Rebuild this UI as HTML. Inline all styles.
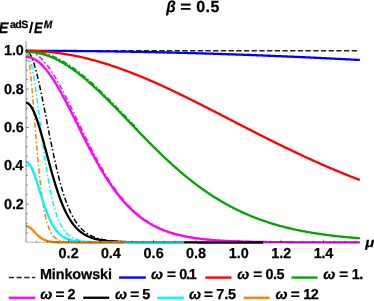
<!DOCTYPE html>
<html><head><meta charset="utf-8"><title>plot</title>
<style>html,body{margin:0;padding:0;background:#fff;width:374px;height:301px;overflow:hidden;font-family:"Liberation Sans",sans-serif}</style>
</head><body>
<svg width="374" height="301" viewBox="0 0 374 301" style="position:absolute;left:0;top:0">
<rect width="374" height="301" fill="#fff"/>
<line x1="29.05" y1="50.80" x2="359.24" y2="50.80" stroke="#222" stroke-width="1.5" stroke-dasharray="3.85 3.85" stroke-linecap="square" stroke-dashoffset="0"/>
<path d="M26.05,50.80 L26.33,50.80 L26.60,50.80 L26.88,50.81 L27.16,50.81 L27.43,50.82 L27.71,50.82 L27.98,50.83 L28.26,50.84 L28.54,50.85 L28.81,50.86 L29.09,50.88 L29.37,50.89 L29.64,50.91 L29.92,50.93 L30.19,50.95 L30.47,50.97 L30.75,50.99 L31.02,51.01 L31.30,51.03 L31.58,51.06 L31.85,51.09 L32.13,51.11 L32.40,51.14 L32.68,51.17 L32.96,51.20 L33.23,51.24 L33.51,51.27 L33.79,51.31 L34.06,51.34 L34.34,51.38 L34.61,51.42 L34.89,51.46 L35.17,51.50 L35.44,51.55 L35.72,51.59 L35.99,51.64 L36.27,51.68 L36.55,51.73 L36.82,51.78 L37.10,51.83 L37.38,51.89 L37.65,51.94 L37.93,51.99 L38.20,52.05 L38.48,52.11 L38.76,52.17 L39.03,52.23 L39.31,52.29 L39.59,52.35 L39.86,52.41 L40.14,52.48 L40.41,52.54 L40.69,52.61 L40.97,52.68 L41.24,52.75 L41.52,52.82 L41.80,52.89 L42.07,52.97 L42.35,53.04 L42.62,53.12 L42.90,53.19 L43.18,53.27 L43.45,53.35 L43.73,53.43 L44.01,53.52 L44.28,53.60 L44.56,53.68 L44.84,53.77 L45.11,53.86 L45.39,53.95 L45.66,54.04 L45.94,54.13 L46.22,54.22 L46.49,54.31 L46.77,54.41 L47.05,54.50 L47.32,54.60 L47.60,54.70 L47.87,54.80 L48.15,54.90 L48.43,55.00 L48.70,55.10 L48.98,55.21 L49.26,55.31 L49.53,55.42 L49.81,55.53 L50.08,55.63 L50.36,55.74 L50.64,55.86 L50.91,55.97 L51.19,56.08 L51.47,56.20 L51.74,56.31 L52.02,56.43 L52.29,56.55 L52.57,56.67 L52.85,56.79 L53.12,56.91 L53.40,57.03 L53.67,57.16 L53.95,57.28 L54.23,57.41 L54.50,57.54 L54.78,57.67 L55.06,57.80 L55.33,57.93 L55.61,58.06 L55.89,58.19 L56.16,58.33 L56.44,58.46 L56.71,58.60 L56.99,58.74 L57.27,58.88 L57.54,59.02 L57.82,59.16 L58.09,59.30 L58.37,59.44 L58.65,59.59 L58.92,59.73 L59.20,59.88 L59.48,60.03 L59.75,60.18 L60.03,60.33 L60.31,60.48 L60.58,60.63 L60.86,60.78 L61.13,60.94 L61.41,61.09 L61.69,61.25 L61.96,61.41 L62.24,61.57 L62.52,61.73 L62.79,61.89 L63.07,62.05 L63.34,62.21 L63.62,62.38 L63.90,62.54 L64.17,62.71 L64.45,62.87 L64.72,63.04 L65.00,63.21 L65.28,63.38 L65.55,63.55 L65.83,63.72 L66.11,63.90 L66.38,64.07 L66.66,64.25 L66.94,64.42 L67.21,64.60 L67.49,64.78 L67.76,64.96 L68.04,65.14 L68.32,65.32 L68.59,65.50 L68.87,65.68 L69.14,65.87 L69.42,66.05 L69.70,66.24 L69.97,66.42 L70.25,66.61 L70.53,66.80 L70.80,66.99 L71.08,67.18 L71.36,67.37 L71.63,67.56 L71.91,67.76 L72.18,67.95 L72.46,68.15 L72.74,68.34 L73.01,68.54 L73.29,68.74 L73.56,68.94 L73.84,69.14 L74.12,69.34 L74.39,69.54 L74.67,69.74 L74.95,69.95 L75.22,70.15 L75.50,70.36 L75.78,70.56 L76.05,70.77 L76.33,70.98 L76.60,71.19 L76.88,71.39 L77.16,71.61 L77.43,71.82 L77.71,72.03 L77.98,72.24 L78.26,72.46 L78.54,72.67 L78.81,72.88 L79.09,73.10 L79.37,73.32 L79.64,73.54 L79.92,73.75 L80.20,73.97 L80.47,74.19 L80.75,74.42 L81.02,74.64 L81.30,74.86 L81.58,75.08 L81.85,75.31 L82.13,75.53 L82.41,75.76 L82.68,75.98 L82.96,76.21 L83.23,76.44 L83.51,76.67 L83.79,76.90 L84.06,77.13 L84.34,77.36 L84.62,77.59 L84.89,77.82 L85.17,78.06 L85.44,78.29 L85.72,78.53 L86.00,78.76 L86.27,79.00 L86.55,79.23 L86.83,79.47 L87.10,79.71 L87.38,79.95 L87.65,80.19 L87.93,80.43 L88.21,80.67 L88.48,80.91 L88.76,81.15 L89.03,81.39 L89.31,81.64 L89.59,81.88 L89.86,82.13 L90.14,82.37 L90.42,82.62 L90.69,82.87 L90.97,83.11 L91.25,83.36 L91.52,83.61 L91.80,83.86 L92.07,84.11 L92.35,84.36 L92.63,84.61 L92.90,84.86 L93.18,85.11 L93.45,85.37 L93.73,85.62 L94.01,85.87 L94.28,86.13 L94.56,86.38 L94.84,86.64 L95.11,86.89 L95.39,87.15 L95.66,87.41 L95.94,87.67 L96.22,87.92 L96.49,88.18 L96.77,88.44 L97.05,88.70 L97.32,88.96 L97.60,89.22 L97.88,89.49 L98.15,89.75 L98.43,90.01 L98.70,90.27 L98.98,90.54 L99.26,90.80 L99.53,91.06 L99.81,91.33 L100.09,91.59 L100.36,91.86 L100.64,92.13 L100.91,92.39 L101.19,92.66 L101.47,92.93 L101.74,93.20 L102.02,93.47 L102.30,93.73 L102.57,94.00 L102.85,94.27 L103.12,94.54 L103.40,94.81 L103.68,95.09 L103.95,95.36 L104.23,95.63 L104.51,95.90 L104.78,96.17 L105.06,96.45 L105.33,96.72 L105.61,96.99 L105.89,97.27 L106.16,97.54 L106.44,97.82 L106.71,98.09 L106.99,98.37 L107.27,98.64 L107.54,98.92 L107.82,99.20 L108.10,99.47 L108.37,99.75 L108.65,100.03 L108.92,100.31 L109.20,100.59 L109.48,100.86 L109.75,101.14 L110.03,101.42 L110.31,101.70 L110.58,101.98 L110.86,102.26 L111.13,102.54 L111.41,102.82 L111.69,103.10 L111.96,103.38 L112.24,103.67 L112.52,103.95 L112.79,104.23 L113.07,104.51 L113.34,104.79 L113.62,105.08 L113.90,105.36 L114.17,105.64 L114.45,105.93 L114.73,106.21 L115.00,106.49 L115.28,106.78 L115.56,107.06 L115.83,107.35 L116.11,107.63 L116.38,107.92 L116.66,108.20 L116.94,108.49 L117.21,108.77 L117.49,109.06 L117.77,109.34 L118.04,109.63 L118.32,109.92 L118.59,110.20 L118.87,110.49 L119.15,110.78 L119.42,111.06 L119.70,111.35 L119.97,111.64 L120.25,111.92 L120.53,112.21 L120.80,112.50 L121.08,112.79 L121.36,113.07 L121.63,113.36 L121.91,113.65 L122.19,113.94 L122.46,114.23 L122.74,114.51 L123.01,114.80 L123.29,115.09 L123.57,115.38 L123.84,115.67 L124.12,115.96 L124.39,116.25 L124.67,116.53 L124.95,116.82 L125.22,117.11 L125.50,117.40 L125.78,117.69 L126.05,117.98 L126.33,118.27 L126.61,118.56 L126.88,118.85 L127.16,119.14 L127.43,119.43 L127.71,119.72 L127.99,120.00 L128.26,120.29 L128.54,120.58 L128.81,120.87 L129.09,121.16 L129.37,121.45 L129.64,121.74 L129.92,122.03 L130.20,122.32 L130.47,122.61 L130.75,122.90 L131.03,123.19 L131.30,123.48 L131.58,123.77 L131.85,124.06 L132.13,124.34 L132.41,124.63 L132.68,124.92 L132.96,125.21 L133.24,125.50 L133.51,125.79 L133.79,126.08 L134.06,126.37 L134.34,126.66 L134.62,126.94 L134.89,127.23 L135.17,127.52 L135.45,127.81 L135.72,128.10 L136.00,128.39 L136.27,128.68 L136.55,128.96" transform="translate(0.55,-0.45)" fill="none" stroke="#00a500" stroke-width="1.5" stroke-dasharray="0.01 3.85 3.85 3.85" stroke-linecap="square" stroke-linejoin="round"/>
<path d="M26.05,50.80 L26.88,50.82 L27.72,50.89 L28.55,51.01 L29.39,51.18 L30.22,51.39 L31.06,51.65 L31.89,51.95 L32.73,52.31 L33.56,52.70 L34.39,53.15 L35.23,53.64 L36.06,54.17 L36.90,54.75 L37.73,55.37 L38.57,56.04 L39.40,56.75 L40.24,57.50 L41.07,58.29 L41.91,59.12 L42.74,60.00 L43.57,60.91 L44.41,61.87 L45.24,62.86 L46.08,63.89 L46.91,64.95 L47.75,66.05 L48.58,67.19 L49.42,68.36 L50.25,69.56 L51.08,70.80 L51.92,72.07 L52.75,73.36 L53.59,74.69 L54.42,76.04 L55.26,77.43 L56.09,78.84 L56.93,80.27 L57.76,81.73 L58.59,83.21 L59.43,84.72 L60.26,86.24 L61.10,87.79 L61.93,89.35 L62.77,90.93 L63.60,92.54 L64.44,94.15 L65.27,95.78 L66.11,97.43 L66.94,99.09 L67.77,100.76 L68.61,102.44 L69.44,104.13 L70.28,105.83 L71.11,107.53 L71.95,109.25 L72.78,110.97 L73.62,112.69 L74.45,114.42 L75.28,116.16 L76.12,117.89 L76.95,119.63 L77.79,121.36 L78.62,123.10 L79.46,124.83 L80.29,126.56 L81.13,128.29 L81.96,130.02 L82.80,131.74 L83.63,133.45 L84.46,135.16 L85.30,136.87 L86.13,138.56 L86.97,140.25 L87.80,141.93 L88.64,143.60 L89.47,145.26 L90.31,146.91 L91.14,148.55 L91.97,150.17 L92.81,151.79 L93.64,153.39 L94.48,154.98 L95.31,156.55 L96.15,158.11 L96.98,159.66 L97.82,161.19 L98.65,162.71 L99.48,164.21 L100.32,165.69 L101.15,167.16 L101.99,168.62 L102.82,170.05 L103.66,171.47 L104.49,172.88 L105.33,174.26 L106.16,175.63 L107.00,176.98 L107.83,178.31 L108.66,179.63 L109.50,180.92 L110.33,182.20 L111.17,183.46 L112.00,184.70 L112.84,185.93 L113.67,187.13 L114.51,188.32 L115.34,189.49 L116.17,190.64 L117.01,191.77 L117.84,192.88 L118.68,193.98 L119.51,195.05 L120.35,196.11 L121.18,197.15 L122.02,198.17 L122.85,199.18 L123.68,200.16 L124.52,201.13 L125.35,202.08 L126.19,203.02 L127.02,203.93 L127.86,204.83 L128.69,205.71 L129.53,206.58 L130.36,207.43 L131.20,208.26 L132.03,209.07 L132.86,209.87 L133.70,210.65 L134.53,211.42 L135.37,212.17 L136.20,212.91 L137.04,213.63 L137.87,214.33 L138.71,215.03 L139.54,215.70 L140.37,216.36 L141.21,217.01 L142.04,217.64 L142.88,218.26 L143.71,218.87 L144.55,219.46 L145.38,220.04 L146.22,220.60 L147.05,221.16 L147.88,221.70 L148.72,222.23 L149.55,222.74 L150.39,223.25 L151.22,223.74 L152.06,224.22 L152.89,224.69 L153.73,225.15 L154.56,225.60 L155.40,226.03 L156.23,226.46 L157.06,226.88 L157.90,227.28 L158.73,227.68 L159.57,228.07 L160.40,228.45 L161.24,228.81 L162.07,229.17 L162.91,229.52 L163.74,229.86 L164.57,230.20 L165.41,230.52 L166.24,230.84 L167.08,231.15 L167.91,231.45 L168.75,231.74 L169.58,232.03 L170.42,232.30 L171.25,232.58 L172.08,232.84 L172.92,233.10 L173.75,233.35 L174.59,233.59 L175.42,233.83 L176.26,234.06 L177.09,234.29 L177.93,234.51 L178.76,234.72 L179.60,234.93 L180.43,235.13 L181.26,235.33 L182.10,235.52 L182.93,235.71 L183.77,235.89 L184.60,236.07 L185.44,236.24 L186.27,236.41 L187.11,236.58 L187.94,236.74 L188.77,236.89 L189.61,237.04 L190.44,237.19 L191.28,237.33 L192.11,237.47 L192.95,237.61 L193.78,237.74 L194.62,237.87 L195.45,237.99 L196.29,238.11 L197.12,238.23 L197.95,238.34 L198.79,238.46 L199.62,238.56 L200.46,238.67 L201.29,238.77 L202.13,238.87 L202.96,238.97 L203.80,239.06 L204.63,239.16 L205.46,239.25 L206.30,239.33 L207.13,239.42 L207.97,239.50 L208.80,239.58 L209.64,239.66 L210.47,239.73 L211.31,239.81 L212.14,239.88 L212.97,239.95 L213.81,240.02 L214.64,240.08 L215.48,240.15 L216.31,240.21 L217.15,240.27 L217.98,240.33 L218.82,240.38 L219.65,240.44 L220.49,240.49 L221.32,240.55 L222.15,240.60 L222.99,240.65 L223.82,240.70 L224.66,240.74 L225.49,240.79 L226.33,240.83 L227.16,240.88 L228.00,240.92 L228.83,240.96 L229.66,241.00 L230.50,241.04 L231.33,241.08 L232.17,241.11 L233.00,241.15 L233.84,241.18 L234.67,241.22 L235.51,241.25 L236.34,241.28 L237.17,241.31 L238.01,241.34 L238.84,241.37 L239.68,241.40 L240.51,241.43 L241.35,241.46 L242.18,241.48 L243.02,241.51 L243.85,241.53 L244.69,241.56 L245.52,241.58 L246.35,241.61 L247.19,241.63 L248.02,241.65 L248.86,241.67 L249.69,241.69 L250.53,241.71 L251.36,241.73 L252.20,241.75 L253.03,241.77 L253.86,241.79 L254.70,241.80 L255.53,241.82 L256.37,241.84 L257.20,241.85 L258.04,241.87 L258.87,241.89 L259.71,241.90 L260.54,241.91 L261.37,241.93 L262.21,241.94 L263.04,241.96 L263.88,241.97 L264.71,241.98 L265.55,241.99 L266.38,242.01 L267.22,242.02 L268.05,242.03 L268.89,242.04 L269.72,242.05 L270.55,242.06 L271.39,242.07 L272.22,242.08 L273.06,242.09 L273.89,242.10 L274.73,242.11 L275.56,242.12 L276.40,242.13 L277.23,242.14 L278.06,242.15 L278.90,242.15 L279.73,242.16 L280.57,242.17 L281.40,242.18 L282.24,242.18 L283.07,242.19 L283.91,242.20 L284.74,242.21 L285.58,242.21 L286.41,242.22 L287.24,242.23 L288.08,242.23 L288.91,242.24 L289.75,242.24 L290.58,242.25 L291.42,242.25 L292.25,242.26 L293.09,242.27 L293.92,242.27 L294.75,242.28 L295.59,242.28 L296.42,242.28 L297.26,242.29 L298.09,242.29 L298.93,242.30 L299.76,242.30 L300.60,242.31 L301.43,242.31 L302.26,242.32 L303.10,242.32 L303.93,242.32 L304.77,242.33 L305.60,242.33 L306.44,242.33 L307.27,242.34 L308.11,242.34 L308.94,242.34 L309.78,242.35 L310.61,242.35 L311.44,242.35 L312.28,242.36 L313.11,242.36 L313.95,242.36 L314.78,242.37 L315.62,242.37 L316.45,242.37 L317.29,242.37 L318.12,242.38 L318.95,242.38 L319.79,242.38 L320.62,242.38 L321.46,242.39 L322.29,242.39 L323.13,242.39 L323.96,242.39 L324.80,242.39 L325.63,242.40 L326.46,242.40 L327.30,242.40 L328.13,242.40 L328.97,242.40 L329.80,242.41 L330.64,242.41 L331.47,242.41 L332.31,242.41 L333.14,242.41 L333.98,242.41 L334.81,242.42 L335.64,242.42 L336.48,242.42 L337.31,242.42 L338.15,242.42 L338.98,242.42 L339.82,242.43 L340.65,242.43 L341.49,242.43 L342.32,242.43 L343.15,242.43 L343.99,242.43 L344.82,242.43 L345.66,242.43 L346.49,242.44 L347.33,242.44 L348.16,242.44 L349.00,242.44 L349.83,242.44 L350.66,242.44 L351.50,242.44 L352.33,242.44 L353.17,242.44 L354.00,242.45 L354.84,242.45 L355.67,242.45 L356.51,242.45 L357.34,242.45 L358.18,242.45 L359.01,242.45 L359.84,242.45" fill="none" stroke="#ff00ff" stroke-width="1.5" stroke-dasharray="0.01 3.85 3.85 3.85" stroke-linecap="square" stroke-linejoin="round"/>
<path d="M26.05,50.80 L26.41,50.83 L26.77,50.91 L27.13,51.05 L27.50,51.24 L27.86,51.49 L28.22,51.79 L28.58,52.15 L28.94,52.56 L29.30,53.03 L29.66,53.55 L30.02,54.12 L30.39,54.74 L30.75,55.42 L31.11,56.14 L31.47,56.92 L31.83,57.74 L32.19,58.61 L32.55,59.53 L32.91,60.50 L33.27,61.51 L33.64,62.57 L34.00,63.68 L34.36,64.82 L34.72,66.01 L35.08,67.23 L35.44,68.50 L35.80,69.81 L36.16,71.15 L36.53,72.53 L36.89,73.94 L37.25,75.38 L37.61,76.86 L37.97,78.37 L38.33,79.91 L38.69,81.48 L39.05,83.07 L39.42,84.69 L39.78,86.34 L40.14,88.00 L40.50,89.69 L40.86,91.40 L41.22,93.13 L41.58,94.87 L41.95,96.64 L42.31,98.41 L42.67,100.20 L43.03,102.01 L43.39,103.82 L43.75,105.64 L44.11,107.48 L44.47,109.32 L44.84,111.16 L45.20,113.01 L45.56,114.87 L45.92,116.73 L46.28,118.59 L46.64,120.45 L47.00,122.30 L47.36,124.16 L47.72,126.02 L48.09,127.87 L48.45,129.71 L48.81,131.55 L49.17,133.38 L49.53,135.21 L49.89,137.03 L50.25,138.83 L50.61,140.63 L50.98,142.42 L51.34,144.19 L51.70,145.96 L52.06,147.71 L52.42,149.44 L52.78,151.17 L53.14,152.87 L53.50,154.57 L53.87,156.24 L54.23,157.90 L54.59,159.54 L54.95,161.17 L55.31,162.78 L55.67,164.37 L56.03,165.94 L56.39,167.49 L56.76,169.02 L57.12,170.53 L57.48,172.03 L57.84,173.50 L58.20,174.95 L58.56,176.39 L58.92,177.80 L59.28,179.19 L59.65,180.56 L60.01,181.91 L60.37,183.24 L60.73,184.55 L61.09,185.83 L61.45,187.10 L61.81,188.34 L62.17,189.57 L62.54,190.77 L62.90,191.95 L63.26,193.11 L63.62,194.25 L63.98,195.37 L64.34,196.47 L64.70,197.55 L65.06,198.61 L65.43,199.65 L65.79,200.67 L66.15,201.66 L66.51,202.64 L66.87,203.60 L67.23,204.54 L67.59,205.46 L67.95,206.36 L68.32,207.25 L68.68,208.11 L69.04,208.96 L69.40,209.78 L69.76,210.59 L70.12,211.39 L70.48,212.16 L70.84,212.92 L71.21,213.66 L71.57,214.39 L71.93,215.10 L72.29,215.79 L72.65,216.47 L73.01,217.13 L73.37,217.77 L73.73,218.40 L74.10,219.02 L74.46,219.62 L74.82,220.21 L75.18,220.78 L75.54,221.34 L75.90,221.89 L76.26,222.42 L76.62,222.94 L76.99,223.45 L77.35,223.95 L77.71,224.43 L78.07,224.90 L78.43,225.36 L78.79,225.81 L79.15,226.25 L79.52,226.67 L79.88,227.09 L80.24,227.49 L80.60,227.89 L80.96,228.27 L81.32,228.64 L81.68,229.01 L82.04,229.36 L82.40,229.71 L82.77,230.05 L83.13,230.38 L83.49,230.70 L83.85,231.01 L84.21,231.31 L84.57,231.61 L84.93,231.90 L85.30,232.18 L85.66,232.45 L86.02,232.71 L86.38,232.97 L86.74,233.22 L87.10,233.47 L87.46,233.71 L87.82,233.94 L88.19,234.17 L88.55,234.39 L88.91,234.60 L89.27,234.81 L89.63,235.01 L89.99,235.21 L90.35,235.40 L90.71,235.59 L91.08,235.77 L91.44,235.94 L91.80,236.12 L92.16,236.28 L92.52,236.45 L92.88,236.61 L93.24,236.76 L93.60,236.91 L93.96,237.05 L94.33,237.20 L94.69,237.33 L95.05,237.47 L95.41,237.60 L95.77,237.73 L96.13,237.85 L96.49,237.97 L96.85,238.09 L97.22,238.20 L97.58,238.31 L97.94,238.42 L98.30,238.52 L98.66,238.63 L99.02,238.73 L99.38,238.82 L99.74,238.92 L100.11,239.01 L100.47,239.10 L100.83,239.18 L101.19,239.27 L101.55,239.35 L101.91,239.43 L102.27,239.51 L102.63,239.58 L103.00,239.65 L103.36,239.72 L103.72,239.79 L104.08,239.86 L104.44,239.93 L104.80,239.99 L105.16,240.05 L105.52,240.11 L105.89,240.17 L106.25,240.23 L106.61,240.29 L106.97,240.34 L107.33,240.39 L107.69,240.44 L108.05,240.49 L108.41,240.54 L108.78,240.59 L109.14,240.64 L109.50,240.68 L109.86,240.73 L110.22,240.77 L110.58,240.81 L110.94,240.85 L111.30,240.89 L111.67,240.93 L112.03,240.96 L112.39,241.00 L112.75,241.04 L113.11,241.07 L113.47,241.10 L113.83,241.14 L114.19,241.17 L114.56,241.20 L114.92,241.23 L115.28,241.26 L115.64,241.29 L116.00,241.31 L116.36,241.34 L116.72,241.37 L117.08,241.39 L117.45,241.42 L117.81,241.44 L118.17,241.47 L118.53,241.49 L118.89,241.51 L119.25,241.54 L119.61,241.56 L119.97,241.58 L120.34,241.60 L120.70,241.62 L121.06,241.64 L121.42,241.66 L121.78,241.67 L122.14,241.69 L122.50,241.71 L122.86,241.73 L123.23,241.74 L123.59,241.76 L123.95,241.78 L124.31,241.79 L124.67,241.81 L125.03,241.82 L125.39,241.84 L125.75,241.85 L126.12,241.86 L126.48,241.88 L126.84,241.89 L127.20,241.90 L127.56,241.92 L127.92,241.93 L128.28,241.94 L128.64,241.95 L129.01,241.96 L129.37,241.97 L129.73,241.98 L130.09,241.99 L130.45,242.00 L130.81,242.01 L131.17,242.02 L131.53,242.03 L131.90,242.04 L132.26,242.05 L132.62,242.06 L132.98,242.07 L133.34,242.08 L133.70,242.09 L134.06,242.09 L134.42,242.10 L134.79,242.11 L135.15,242.12 L135.51,242.12 L135.87,242.13 L136.23,242.14 L136.59,242.15 L136.95,242.15 L137.31,242.16 L137.68,242.17 L138.04,242.17 L138.40,242.18 L138.76,242.18 L139.12,242.19 L139.48,242.20 L139.84,242.20 L140.20,242.21 L140.57,242.21 L140.93,242.22 L141.29,242.22 L141.65,242.23 L142.01,242.23 L142.37,242.24 L142.73,242.24 L143.09,242.25 L143.46,242.25 L143.82,242.25 L144.18,242.26 L144.54,242.26 L144.90,242.27 L145.26,242.27 L145.62,242.28 L145.99,242.28 L146.35,242.28 L146.71,242.29 L147.07,242.29 L147.43,242.29 L147.79,242.30 L148.15,242.30 L148.51,242.30 L148.88,242.31 L149.24,242.31 L149.60,242.31 L149.96,242.32 L150.32,242.32 L150.68,242.32 L151.04,242.33 L151.40,242.33 L151.77,242.33 L152.13,242.33 L152.49,242.34 L152.85,242.34 L153.21,242.34 L153.57,242.34 L153.93,242.35 L154.29,242.35 L154.66,242.35 L155.02,242.35 L155.38,242.36 L155.74,242.36 L156.10,242.36 L156.46,242.36 L156.82,242.36 L157.18,242.37 L157.54,242.37 L157.91,242.37 L158.27,242.37 L158.63,242.37 L158.99,242.38 L159.35,242.38 L159.71,242.38 L160.07,242.38 L160.44,242.38 L160.80,242.39 L161.16,242.39 L161.52,242.39 L161.88,242.39 L162.24,242.39 L162.60,242.39 L162.96,242.39 L163.32,242.40 L163.69,242.40 L164.05,242.40 L164.41,242.40 L164.77,242.40 L165.13,242.40 L165.49,242.40 L165.85,242.41 L166.22,242.41 L166.58,242.41 L166.94,242.41 L167.30,242.41 L167.66,242.41 L168.02,242.41 L168.38,242.41 L168.74,242.42 L169.10,242.42 L169.47,242.42 L169.83,242.42 L170.19,242.42 L170.55,242.42" fill="none" stroke="#000000" stroke-width="1.5" stroke-dasharray="0.01 3.85 3.85 3.85" stroke-linecap="square" stroke-linejoin="round"/>
<path d="M26.05,50.80 L26.29,50.83 L26.53,50.91 L26.77,51.05 L27.01,51.24 L27.25,51.49 L27.50,51.79 L27.74,52.15 L27.98,52.56 L28.22,53.03 L28.46,53.55 L28.70,54.12 L28.94,54.74 L29.18,55.42 L29.42,56.14 L29.66,56.92 L29.90,57.74 L30.14,58.61 L30.39,59.53 L30.63,60.50 L30.87,61.51 L31.11,62.57 L31.35,63.68 L31.59,64.82 L31.83,66.01 L32.07,67.23 L32.31,68.50 L32.55,69.81 L32.79,71.15 L33.03,72.53 L33.27,73.94 L33.52,75.38 L33.76,76.86 L34.00,78.37 L34.24,79.91 L34.48,81.48 L34.72,83.07 L34.96,84.69 L35.20,86.34 L35.44,88.00 L35.68,89.69 L35.92,91.40 L36.16,93.13 L36.41,94.87 L36.65,96.64 L36.89,98.41 L37.13,100.20 L37.37,102.01 L37.61,103.82 L37.85,105.64 L38.09,107.48 L38.33,109.32 L38.57,111.16 L38.81,113.01 L39.05,114.87 L39.30,116.73 L39.54,118.59 L39.78,120.45 L40.02,122.30 L40.26,124.16 L40.50,126.02 L40.74,127.87 L40.98,129.71 L41.22,131.55 L41.46,133.38 L41.70,135.21 L41.95,137.03 L42.19,138.83 L42.43,140.63 L42.67,142.42 L42.91,144.19 L43.15,145.96 L43.39,147.71 L43.63,149.44 L43.87,151.17 L44.11,152.87 L44.35,154.57 L44.59,156.24 L44.84,157.90 L45.08,159.54 L45.32,161.17 L45.56,162.78 L45.80,164.37 L46.04,165.94 L46.28,167.49 L46.52,169.02 L46.76,170.53 L47.00,172.03 L47.24,173.50 L47.48,174.95 L47.72,176.39 L47.97,177.80 L48.21,179.19 L48.45,180.56 L48.69,181.91 L48.93,183.24 L49.17,184.55 L49.41,185.83 L49.65,187.10 L49.89,188.34 L50.13,189.57 L50.37,190.77 L50.61,191.95 L50.86,193.11 L51.10,194.25 L51.34,195.37 L51.58,196.47 L51.82,197.55 L52.06,198.61 L52.30,199.65 L52.54,200.67 L52.78,201.66 L53.02,202.64 L53.26,203.60 L53.51,204.54 L53.75,205.46 L53.99,206.36 L54.23,207.25 L54.47,208.11 L54.71,208.96 L54.95,209.78 L55.19,210.59 L55.43,211.39 L55.67,212.16 L55.91,212.92 L56.15,213.66 L56.39,214.39 L56.64,215.10 L56.88,215.79 L57.12,216.47 L57.36,217.13 L57.60,217.77 L57.84,218.40 L58.08,219.02 L58.32,219.62 L58.56,220.21 L58.80,220.78 L59.04,221.34 L59.28,221.89 L59.53,222.42 L59.77,222.94 L60.01,223.45 L60.25,223.95 L60.49,224.43 L60.73,224.90 L60.97,225.36 L61.21,225.81 L61.45,226.25 L61.69,226.67 L61.93,227.09 L62.17,227.49 L62.42,227.89 L62.66,228.27 L62.90,228.64 L63.14,229.01 L63.38,229.36 L63.62,229.71 L63.86,230.05 L64.10,230.38 L64.34,230.70 L64.58,231.01 L64.82,231.31 L65.06,231.61 L65.31,231.90 L65.55,232.18 L65.79,232.45 L66.03,232.71 L66.27,232.97 L66.51,233.22 L66.75,233.47 L66.99,233.71 L67.23,233.94 L67.47,234.17 L67.71,234.39 L67.95,234.60 L68.20,234.81 L68.44,235.01 L68.68,235.21 L68.92,235.40 L69.16,235.59 L69.40,235.77 L69.64,235.94 L69.88,236.12 L70.12,236.28 L70.36,236.45 L70.60,236.61 L70.84,236.76 L71.09,236.91 L71.33,237.05 L71.57,237.20 L71.81,237.33 L72.05,237.47 L72.29,237.60 L72.53,237.73 L72.77,237.85 L73.01,237.97 L73.25,238.09 L73.49,238.20 L73.73,238.31 L73.98,238.42 L74.22,238.52 L74.46,238.63 L74.70,238.73 L74.94,238.82 L75.18,238.92 L75.42,239.01 L75.66,239.10 L75.90,239.18 L76.14,239.27 L76.38,239.35 L76.62,239.43 L76.87,239.51 L77.11,239.58 L77.35,239.65 L77.59,239.72 L77.83,239.79 L78.07,239.86 L78.31,239.93 L78.55,239.99 L78.79,240.05 L79.03,240.11 L79.27,240.17 L79.52,240.23 L79.76,240.29 L80.00,240.34 L80.24,240.39 L80.48,240.44 L80.72,240.49 L80.96,240.54 L81.20,240.59 L81.44,240.64 L81.68,240.68 L81.92,240.73 L82.16,240.77 L82.41,240.81 L82.65,240.85 L82.89,240.89 L83.13,240.93 L83.37,240.96 L83.61,241.00 L83.85,241.04 L84.09,241.07 L84.33,241.10 L84.57,241.14 L84.81,241.17 L85.05,241.20 L85.30,241.23 L85.54,241.26 L85.78,241.29 L86.02,241.31 L86.26,241.34 L86.50,241.37 L86.74,241.39 L86.98,241.42 L87.22,241.44 L87.46,241.47 L87.70,241.49 L87.94,241.51 L88.19,241.54 L88.43,241.56 L88.67,241.58 L88.91,241.60 L89.15,241.62 L89.39,241.64 L89.63,241.66 L89.87,241.67 L90.11,241.69 L90.35,241.71 L90.59,241.73 L90.83,241.74 L91.08,241.76 L91.32,241.78 L91.56,241.79 L91.80,241.81 L92.04,241.82 L92.28,241.84 L92.52,241.85 L92.76,241.86 L93.00,241.88 L93.24,241.89 L93.48,241.90 L93.72,241.92 L93.96,241.93 L94.21,241.94 L94.45,241.95 L94.69,241.96 L94.93,241.97 L95.17,241.98 L95.41,241.99 L95.65,242.00 L95.89,242.01 L96.13,242.02 L96.37,242.03 L96.61,242.04 L96.85,242.05 L97.10,242.06 L97.34,242.07 L97.58,242.08 L97.82,242.09 L98.06,242.09 L98.30,242.10 L98.54,242.11 L98.78,242.12 L99.02,242.12 L99.26,242.13 L99.50,242.14 L99.74,242.15 L99.99,242.15 L100.23,242.16 L100.47,242.17 L100.71,242.17 L100.95,242.18 L101.19,242.18 L101.43,242.19 L101.67,242.20 L101.91,242.20 L102.15,242.21 L102.39,242.21 L102.63,242.22 L102.88,242.22 L103.12,242.23 L103.36,242.23 L103.60,242.24 L103.84,242.24 L104.08,242.25 L104.32,242.25 L104.56,242.25 L104.80,242.26 L105.04,242.26 L105.28,242.27 L105.52,242.27 L105.77,242.28 L106.01,242.28 L106.25,242.28 L106.49,242.29 L106.73,242.29 L106.97,242.29 L107.21,242.30 L107.45,242.30 L107.69,242.30 L107.93,242.31 L108.17,242.31 L108.41,242.31 L108.66,242.32 L108.90,242.32 L109.14,242.32 L109.38,242.33 L109.62,242.33 L109.86,242.33 L110.10,242.33 L110.34,242.34 L110.58,242.34 L110.82,242.34 L111.06,242.34 L111.30,242.35 L111.55,242.35 L111.79,242.35 L112.03,242.35 L112.27,242.36 L112.51,242.36 L112.75,242.36 L112.99,242.36 L113.23,242.36 L113.47,242.37 L113.71,242.37 L113.95,242.37 L114.19,242.37 L114.44,242.37 L114.68,242.38 L114.92,242.38 L115.16,242.38 L115.40,242.38 L115.64,242.38 L115.88,242.39 L116.12,242.39 L116.36,242.39 L116.60,242.39 L116.84,242.39 L117.08,242.39 L117.33,242.39 L117.57,242.40 L117.81,242.40 L118.05,242.40 L118.29,242.40 L118.53,242.40 L118.77,242.40 L119.01,242.40 L119.25,242.41 L119.49,242.41 L119.73,242.41 L119.97,242.41 L120.22,242.41 L120.46,242.41 L120.70,242.41 L120.94,242.41 L121.18,242.42 L121.42,242.42 L121.66,242.42 L121.90,242.42 L122.14,242.42 L122.38,242.42" fill="none" stroke="#00f6ff" stroke-width="1.5" stroke-dasharray="0.01 3.85 3.85 3.85" stroke-linecap="square" stroke-linejoin="round"/>
<path d="M26.05,50.80 L26.20,50.83 L26.35,50.91 L26.50,51.05 L26.65,51.24 L26.80,51.49 L26.95,51.79 L27.10,52.15 L27.25,52.56 L27.40,53.03 L27.56,53.55 L27.71,54.12 L27.86,54.74 L28.01,55.42 L28.16,56.14 L28.31,56.92 L28.46,57.74 L28.61,58.61 L28.76,59.53 L28.91,60.50 L29.06,61.51 L29.21,62.57 L29.36,63.68 L29.51,64.82 L29.66,66.01 L29.81,67.23 L29.96,68.50 L30.11,69.81 L30.26,71.15 L30.42,72.53 L30.57,73.94 L30.72,75.38 L30.87,76.86 L31.02,78.37 L31.17,79.91 L31.32,81.48 L31.47,83.07 L31.62,84.69 L31.77,86.34 L31.92,88.00 L32.07,89.69 L32.22,91.40 L32.37,93.13 L32.52,94.87 L32.67,96.64 L32.82,98.41 L32.97,100.20 L33.12,102.01 L33.27,103.82 L33.43,105.64 L33.58,107.48 L33.73,109.32 L33.88,111.16 L34.03,113.01 L34.18,114.87 L34.33,116.73 L34.48,118.59 L34.63,120.45 L34.78,122.30 L34.93,124.16 L35.08,126.02 L35.23,127.87 L35.38,129.71 L35.53,131.55 L35.68,133.38 L35.83,135.21 L35.98,137.03 L36.13,138.83 L36.29,140.63 L36.44,142.42 L36.59,144.19 L36.74,145.96 L36.89,147.71 L37.04,149.44 L37.19,151.17 L37.34,152.87 L37.49,154.57 L37.64,156.24 L37.79,157.90 L37.94,159.54 L38.09,161.17 L38.24,162.78 L38.39,164.37 L38.54,165.94 L38.69,167.49 L38.84,169.02 L38.99,170.53 L39.15,172.03 L39.30,173.50 L39.45,174.95 L39.60,176.39 L39.75,177.80 L39.90,179.19 L40.05,180.56 L40.20,181.91 L40.35,183.24 L40.50,184.55 L40.65,185.83 L40.80,187.10 L40.95,188.34 L41.10,189.57 L41.25,190.77 L41.40,191.95 L41.55,193.11 L41.70,194.25 L41.85,195.37 L42.01,196.47 L42.16,197.55 L42.31,198.61 L42.46,199.65 L42.61,200.67 L42.76,201.66 L42.91,202.64 L43.06,203.60 L43.21,204.54 L43.36,205.46 L43.51,206.36 L43.66,207.25 L43.81,208.11 L43.96,208.96 L44.11,209.78 L44.26,210.59 L44.41,211.39 L44.56,212.16 L44.71,212.92 L44.87,213.66 L45.02,214.39 L45.17,215.10 L45.32,215.79 L45.47,216.47 L45.62,217.13 L45.77,217.77 L45.92,218.40 L46.07,219.02 L46.22,219.62 L46.37,220.21 L46.52,220.78 L46.67,221.34 L46.82,221.89 L46.97,222.42 L47.12,222.94 L47.27,223.45 L47.42,223.95 L47.57,224.43 L47.72,224.90 L47.88,225.36 L48.03,225.81 L48.18,226.25 L48.33,226.67 L48.48,227.09 L48.63,227.49 L48.78,227.89 L48.93,228.27 L49.08,228.64 L49.23,229.01 L49.38,229.36 L49.53,229.71 L49.68,230.05 L49.83,230.38 L49.98,230.70 L50.13,231.01 L50.28,231.31 L50.43,231.61 L50.58,231.90 L50.74,232.18 L50.89,232.45 L51.04,232.71 L51.19,232.97 L51.34,233.22 L51.49,233.47 L51.64,233.71 L51.79,233.94 L51.94,234.17 L52.09,234.39 L52.24,234.60 L52.39,234.81 L52.54,235.01 L52.69,235.21 L52.84,235.40 L52.99,235.59 L53.14,235.77 L53.29,235.94 L53.44,236.12 L53.60,236.28 L53.75,236.45 L53.90,236.61 L54.05,236.76 L54.20,236.91 L54.35,237.05 L54.50,237.20 L54.65,237.33 L54.80,237.47 L54.95,237.60 L55.10,237.73 L55.25,237.85 L55.40,237.97 L55.55,238.09 L55.70,238.20 L55.85,238.31 L56.00,238.42 L56.15,238.52 L56.30,238.63 L56.46,238.73 L56.61,238.82 L56.76,238.92 L56.91,239.01 L57.06,239.10 L57.21,239.18 L57.36,239.27 L57.51,239.35 L57.66,239.43 L57.81,239.51 L57.96,239.58 L58.11,239.65 L58.26,239.72 L58.41,239.79 L58.56,239.86 L58.71,239.93 L58.86,239.99 L59.01,240.05 L59.16,240.11 L59.32,240.17 L59.47,240.23 L59.62,240.29 L59.77,240.34 L59.92,240.39 L60.07,240.44 L60.22,240.49 L60.37,240.54 L60.52,240.59 L60.67,240.64 L60.82,240.68 L60.97,240.73 L61.12,240.77 L61.27,240.81 L61.42,240.85 L61.57,240.89 L61.72,240.93 L61.87,240.96 L62.02,241.00 L62.17,241.04 L62.33,241.07 L62.48,241.10 L62.63,241.14 L62.78,241.17 L62.93,241.20 L63.08,241.23 L63.23,241.26 L63.38,241.29 L63.53,241.31 L63.68,241.34 L63.83,241.37 L63.98,241.39 L64.13,241.42 L64.28,241.44 L64.43,241.47 L64.58,241.49 L64.73,241.51 L64.88,241.54 L65.03,241.56 L65.19,241.58 L65.34,241.60 L65.49,241.62 L65.64,241.64 L65.79,241.66 L65.94,241.67 L66.09,241.69 L66.24,241.71 L66.39,241.73 L66.54,241.74 L66.69,241.76 L66.84,241.78 L66.99,241.79 L67.14,241.81 L67.29,241.82 L67.44,241.84 L67.59,241.85 L67.74,241.86 L67.89,241.88 L68.05,241.89 L68.20,241.90 L68.35,241.92 L68.50,241.93 L68.65,241.94 L68.80,241.95 L68.95,241.96 L69.10,241.97 L69.25,241.98 L69.40,241.99 L69.55,242.00 L69.70,242.01 L69.85,242.02 L70.00,242.03 L70.15,242.04 L70.30,242.05 L70.45,242.06 L70.60,242.07 L70.75,242.08 L70.91,242.09 L71.06,242.09 L71.21,242.10 L71.36,242.11 L71.51,242.12 L71.66,242.12 L71.81,242.13 L71.96,242.14 L72.11,242.15 L72.26,242.15 L72.41,242.16 L72.56,242.17 L72.71,242.17 L72.86,242.18 L73.01,242.18 L73.16,242.19 L73.31,242.20 L73.46,242.20 L73.61,242.21 L73.77,242.21 L73.92,242.22 L74.07,242.22 L74.22,242.23 L74.37,242.23 L74.52,242.24 L74.67,242.24 L74.82,242.25 L74.97,242.25 L75.12,242.25 L75.27,242.26 L75.42,242.26 L75.57,242.27 L75.72,242.27 L75.87,242.28 L76.02,242.28 L76.17,242.28 L76.32,242.29 L76.47,242.29 L76.62,242.29 L76.78,242.30 L76.93,242.30 L77.08,242.30 L77.23,242.31 L77.38,242.31 L77.53,242.31 L77.68,242.32 L77.83,242.32 L77.98,242.32 L78.13,242.33 L78.28,242.33 L78.43,242.33 L78.58,242.33 L78.73,242.34 L78.88,242.34 L79.03,242.34 L79.18,242.34 L79.33,242.35 L79.48,242.35 L79.64,242.35 L79.79,242.35 L79.94,242.36 L80.09,242.36 L80.24,242.36 L80.39,242.36 L80.54,242.36 L80.69,242.37 L80.84,242.37 L80.99,242.37 L81.14,242.37 L81.29,242.37 L81.44,242.38 L81.59,242.38 L81.74,242.38 L81.89,242.38 L82.04,242.38 L82.19,242.39 L82.34,242.39 L82.50,242.39 L82.65,242.39 L82.80,242.39 L82.95,242.39 L83.10,242.39 L83.25,242.40 L83.40,242.40 L83.55,242.40 L83.70,242.40 L83.85,242.40 L84.00,242.40 L84.15,242.40 L84.30,242.41 L84.45,242.41 L84.60,242.41 L84.75,242.41 L84.90,242.41 L85.05,242.41 L85.20,242.41 L85.36,242.41 L85.51,242.42 L85.66,242.42 L85.81,242.42 L85.96,242.42 L86.11,242.42 L86.26,242.42" fill="none" stroke="#ff8000" stroke-width="1.5" stroke-dasharray="0.01 3.85 3.85 3.85" stroke-linecap="square" stroke-linejoin="round"/>
<path d="M26.05,50.80 L26.88,50.80 L27.72,50.80 L28.55,50.80 L29.39,50.80 L30.22,50.80 L31.06,50.80 L31.89,50.80 L32.73,50.80 L33.56,50.80 L34.39,50.81 L35.23,50.81 L36.06,50.81 L36.90,50.81 L37.73,50.81 L38.57,50.81 L39.40,50.82 L40.24,50.82 L41.07,50.82 L41.91,50.82 L42.74,50.82 L43.57,50.83 L44.41,50.83 L45.24,50.83 L46.08,50.83 L46.91,50.84 L47.75,50.84 L48.58,50.84 L49.42,50.85 L50.25,50.85 L51.08,50.85 L51.92,50.86 L52.75,50.86 L53.59,50.86 L54.42,50.87 L55.26,50.87 L56.09,50.88 L56.93,50.88 L57.76,50.89 L58.59,50.89 L59.43,50.89 L60.26,50.90 L61.10,50.90 L61.93,50.91 L62.77,50.91 L63.60,50.92 L64.44,50.93 L65.27,50.93 L66.11,50.94 L66.94,50.94 L67.77,50.95 L68.61,50.95 L69.44,50.96 L70.28,50.97 L71.11,50.97 L71.95,50.98 L72.78,50.99 L73.62,50.99 L74.45,51.00 L75.28,51.01 L76.12,51.01 L76.95,51.02 L77.79,51.03 L78.62,51.03 L79.46,51.04 L80.29,51.05 L81.13,51.06 L81.96,51.07 L82.80,51.07 L83.63,51.08 L84.46,51.09 L85.30,51.10 L86.13,51.11 L86.97,51.11 L87.80,51.12 L88.64,51.13 L89.47,51.14 L90.31,51.15 L91.14,51.16 L91.97,51.17 L92.81,51.18 L93.64,51.19 L94.48,51.20 L95.31,51.21 L96.15,51.22 L96.98,51.23 L97.82,51.24 L98.65,51.25 L99.48,51.26 L100.32,51.27 L101.15,51.28 L101.99,51.29 L102.82,51.30 L103.66,51.31 L104.49,51.32 L105.33,51.33 L106.16,51.34 L107.00,51.36 L107.83,51.37 L108.66,51.38 L109.50,51.39 L110.33,51.40 L111.17,51.41 L112.00,51.43 L112.84,51.44 L113.67,51.45 L114.51,51.46 L115.34,51.48 L116.17,51.49 L117.01,51.50 L117.84,51.51 L118.68,51.53 L119.51,51.54 L120.35,51.55 L121.18,51.57 L122.02,51.58 L122.85,51.59 L123.68,51.61 L124.52,51.62 L125.35,51.64 L126.19,51.65 L127.02,51.66 L127.86,51.68 L128.69,51.69 L129.53,51.71 L130.36,51.72 L131.20,51.74 L132.03,51.75 L132.86,51.77 L133.70,51.78 L134.53,51.80 L135.37,51.81 L136.20,51.83 L137.04,51.84 L137.87,51.86 L138.71,51.87 L139.54,51.89 L140.37,51.91 L141.21,51.92 L142.04,51.94 L142.88,51.95 L143.71,51.97 L144.55,51.99 L145.38,52.00 L146.22,52.02 L147.05,52.04 L147.88,52.06 L148.72,52.07 L149.55,52.09 L150.39,52.11 L151.22,52.12 L152.06,52.14 L152.89,52.16 L153.73,52.18 L154.56,52.20 L155.40,52.21 L156.23,52.23 L157.06,52.25 L157.90,52.27 L158.73,52.29 L159.57,52.31 L160.40,52.33 L161.24,52.34 L162.07,52.36 L162.91,52.38 L163.74,52.40 L164.57,52.42 L165.41,52.44 L166.24,52.46 L167.08,52.48 L167.91,52.50 L168.75,52.52 L169.58,52.54 L170.42,52.56 L171.25,52.58 L172.08,52.60 L172.92,52.62 L173.75,52.64 L174.59,52.66 L175.42,52.68 L176.26,52.70 L177.09,52.73 L177.93,52.75 L178.76,52.77 L179.60,52.79 L180.43,52.81 L181.26,52.83 L182.10,52.85 L182.93,52.88 L183.77,52.90 L184.60,52.92 L185.44,52.94 L186.27,52.97 L187.11,52.99 L187.94,53.01 L188.77,53.03 L189.61,53.06 L190.44,53.08 L191.28,53.10 L192.11,53.12 L192.95,53.15 L193.78,53.17 L194.62,53.20 L195.45,53.22 L196.29,53.24 L197.12,53.27 L197.95,53.29 L198.79,53.31 L199.62,53.34 L200.46,53.36 L201.29,53.39 L202.13,53.41 L202.96,53.44 L203.80,53.46 L204.63,53.49 L205.46,53.51 L206.30,53.54 L207.13,53.56 L207.97,53.59 L208.80,53.61 L209.64,53.64 L210.47,53.66 L211.31,53.69 L212.14,53.71 L212.97,53.74 L213.81,53.77 L214.64,53.79 L215.48,53.82 L216.31,53.85 L217.15,53.87 L217.98,53.90 L218.82,53.93 L219.65,53.95 L220.49,53.98 L221.32,54.01 L222.15,54.03 L222.99,54.06 L223.82,54.09 L224.66,54.12 L225.49,54.14 L226.33,54.17 L227.16,54.20 L228.00,54.23 L228.83,54.25 L229.66,54.28 L230.50,54.31 L231.33,54.34 L232.17,54.37 L233.00,54.40 L233.84,54.43 L234.67,54.45 L235.51,54.48 L236.34,54.51 L237.17,54.54 L238.01,54.57 L238.84,54.60 L239.68,54.63 L240.51,54.66 L241.35,54.69 L242.18,54.72 L243.02,54.75 L243.85,54.78 L244.69,54.81 L245.52,54.84 L246.35,54.87 L247.19,54.90 L248.02,54.93 L248.86,54.96 L249.69,54.99 L250.53,55.02 L251.36,55.05 L252.20,55.09 L253.03,55.12 L253.86,55.15 L254.70,55.18 L255.53,55.21 L256.37,55.24 L257.20,55.27 L258.04,55.31 L258.87,55.34 L259.71,55.37 L260.54,55.40 L261.37,55.44 L262.21,55.47 L263.04,55.50 L263.88,55.53 L264.71,55.57 L265.55,55.60 L266.38,55.63 L267.22,55.67 L268.05,55.70 L268.89,55.73 L269.72,55.77 L270.55,55.80 L271.39,55.83 L272.22,55.87 L273.06,55.90 L273.89,55.93 L274.73,55.97 L275.56,56.00 L276.40,56.04 L277.23,56.07 L278.06,56.11 L278.90,56.14 L279.73,56.17 L280.57,56.21 L281.40,56.24 L282.24,56.28 L283.07,56.31 L283.91,56.35 L284.74,56.39 L285.58,56.42 L286.41,56.46 L287.24,56.49 L288.08,56.53 L288.91,56.56 L289.75,56.60 L290.58,56.64 L291.42,56.67 L292.25,56.71 L293.09,56.75 L293.92,56.78 L294.75,56.82 L295.59,56.85 L296.42,56.89 L297.26,56.93 L298.09,56.97 L298.93,57.00 L299.76,57.04 L300.60,57.08 L301.43,57.12 L302.26,57.15 L303.10,57.19 L303.93,57.23 L304.77,57.27 L305.60,57.30 L306.44,57.34 L307.27,57.38 L308.11,57.42 L308.94,57.46 L309.78,57.50 L310.61,57.53 L311.44,57.57 L312.28,57.61 L313.11,57.65 L313.95,57.69 L314.78,57.73 L315.62,57.77 L316.45,57.81 L317.29,57.85 L318.12,57.89 L318.95,57.93 L319.79,57.97 L320.62,58.01 L321.46,58.05 L322.29,58.09 L323.13,58.13 L323.96,58.17 L324.80,58.21 L325.63,58.25 L326.46,58.29 L327.30,58.33 L328.13,58.37 L328.97,58.41 L329.80,58.45 L330.64,58.49 L331.47,58.53 L332.31,58.58 L333.14,58.62 L333.98,58.66 L334.81,58.70 L335.64,58.74 L336.48,58.78 L337.31,58.83 L338.15,58.87 L338.98,58.91 L339.82,58.95 L340.65,58.99 L341.49,59.04 L342.32,59.08 L343.15,59.12 L343.99,59.16 L344.82,59.21 L345.66,59.25 L346.49,59.29 L347.33,59.34 L348.16,59.38 L349.00,59.42 L349.83,59.47 L350.66,59.51 L351.50,59.55 L352.33,59.60 L353.17,59.64 L354.00,59.68 L354.84,59.73 L355.67,59.77 L356.51,59.82 L357.34,59.86 L358.18,59.91 L359.01,59.95 L359.84,59.99" fill="none" stroke="#0000f8" stroke-width="2.3" stroke-linejoin="round"/>
<path d="M26.05,50.80 L26.88,50.80 L27.72,50.81 L28.55,50.81 L29.39,50.82 L30.22,50.84 L31.06,50.85 L31.89,50.87 L32.73,50.89 L33.56,50.92 L34.39,50.95 L35.23,50.98 L36.06,51.01 L36.90,51.05 L37.73,51.09 L38.57,51.13 L39.40,51.18 L40.24,51.23 L41.07,51.28 L41.91,51.33 L42.74,51.39 L43.57,51.45 L44.41,51.51 L45.24,51.58 L46.08,51.65 L46.91,51.72 L47.75,51.80 L48.58,51.87 L49.42,51.95 L50.25,52.04 L51.08,52.12 L51.92,52.21 L52.75,52.31 L53.59,52.40 L54.42,52.50 L55.26,52.60 L56.09,52.70 L56.93,52.81 L57.76,52.92 L58.59,53.03 L59.43,53.15 L60.26,53.27 L61.10,53.39 L61.93,53.51 L62.77,53.64 L63.60,53.77 L64.44,53.90 L65.27,54.03 L66.11,54.17 L66.94,54.31 L67.77,54.45 L68.61,54.60 L69.44,54.75 L70.28,54.90 L71.11,55.05 L71.95,55.21 L72.78,55.37 L73.62,55.53 L74.45,55.70 L75.28,55.87 L76.12,56.04 L76.95,56.21 L77.79,56.39 L78.62,56.56 L79.46,56.74 L80.29,56.93 L81.13,57.11 L81.96,57.30 L82.80,57.50 L83.63,57.69 L84.46,57.89 L85.30,58.09 L86.13,58.29 L86.97,58.49 L87.80,58.70 L88.64,58.91 L89.47,59.12 L90.31,59.34 L91.14,59.55 L91.97,59.77 L92.81,59.99 L93.64,60.22 L94.48,60.45 L95.31,60.68 L96.15,60.91 L96.98,61.14 L97.82,61.38 L98.65,61.62 L99.48,61.86 L100.32,62.10 L101.15,62.35 L101.99,62.60 L102.82,62.85 L103.66,63.10 L104.49,63.36 L105.33,63.62 L106.16,63.88 L107.00,64.14 L107.83,64.40 L108.66,64.67 L109.50,64.94 L110.33,65.21 L111.17,65.49 L112.00,65.76 L112.84,66.04 L113.67,66.32 L114.51,66.60 L115.34,66.89 L116.17,67.17 L117.01,67.46 L117.84,67.75 L118.68,68.05 L119.51,68.34 L120.35,68.64 L121.18,68.94 L122.02,69.24 L122.85,69.54 L123.68,69.85 L124.52,70.15 L125.35,70.46 L126.19,70.78 L127.02,71.09 L127.86,71.40 L128.69,71.72 L129.53,72.04 L130.36,72.36 L131.20,72.68 L132.03,73.01 L132.86,73.33 L133.70,73.66 L134.53,73.99 L135.37,74.32 L136.20,74.66 L137.04,74.99 L137.87,75.33 L138.71,75.67 L139.54,76.01 L140.37,76.35 L141.21,76.69 L142.04,77.04 L142.88,77.39 L143.71,77.73 L144.55,78.08 L145.38,78.44 L146.22,78.79 L147.05,79.14 L147.88,79.50 L148.72,79.86 L149.55,80.22 L150.39,80.58 L151.22,80.94 L152.06,81.31 L152.89,81.67 L153.73,82.04 L154.56,82.41 L155.40,82.78 L156.23,83.15 L157.06,83.52 L157.90,83.90 L158.73,84.27 L159.57,84.65 L160.40,85.02 L161.24,85.40 L162.07,85.78 L162.91,86.17 L163.74,86.55 L164.57,86.93 L165.41,87.32 L166.24,87.71 L167.08,88.09 L167.91,88.48 L168.75,88.87 L169.58,89.26 L170.42,89.66 L171.25,90.05 L172.08,90.44 L172.92,90.84 L173.75,91.24 L174.59,91.63 L175.42,92.03 L176.26,92.43 L177.09,92.83 L177.93,93.23 L178.76,93.64 L179.60,94.04 L180.43,94.44 L181.26,94.85 L182.10,95.26 L182.93,95.66 L183.77,96.07 L184.60,96.48 L185.44,96.89 L186.27,97.30 L187.11,97.71 L187.94,98.12 L188.77,98.53 L189.61,98.95 L190.44,99.36 L191.28,99.78 L192.11,100.19 L192.95,100.61 L193.78,101.02 L194.62,101.44 L195.45,101.86 L196.29,102.28 L197.12,102.70 L197.95,103.12 L198.79,103.54 L199.62,103.96 L200.46,104.38 L201.29,104.80 L202.13,105.22 L202.96,105.65 L203.80,106.07 L204.63,106.49 L205.46,106.92 L206.30,107.34 L207.13,107.77 L207.97,108.19 L208.80,108.62 L209.64,109.05 L210.47,109.47 L211.31,109.90 L212.14,110.33 L212.97,110.75 L213.81,111.18 L214.64,111.61 L215.48,112.04 L216.31,112.47 L217.15,112.90 L217.98,113.33 L218.82,113.75 L219.65,114.18 L220.49,114.61 L221.32,115.04 L222.15,115.47 L222.99,115.90 L223.82,116.33 L224.66,116.76 L225.49,117.19 L226.33,117.62 L227.16,118.06 L228.00,118.49 L228.83,118.92 L229.66,119.35 L230.50,119.78 L231.33,120.21 L232.17,120.64 L233.00,121.07 L233.84,121.50 L234.67,121.93 L235.51,122.36 L236.34,122.79 L237.17,123.22 L238.01,123.65 L238.84,124.08 L239.68,124.51 L240.51,124.94 L241.35,125.37 L242.18,125.80 L243.02,126.23 L243.85,126.66 L244.69,127.09 L245.52,127.51 L246.35,127.94 L247.19,128.37 L248.02,128.80 L248.86,129.23 L249.69,129.65 L250.53,130.08 L251.36,130.51 L252.20,130.93 L253.03,131.36 L253.86,131.78 L254.70,132.21 L255.53,132.63 L256.37,133.06 L257.20,133.48 L258.04,133.91 L258.87,134.33 L259.71,134.75 L260.54,135.17 L261.37,135.60 L262.21,136.02 L263.04,136.44 L263.88,136.86 L264.71,137.28 L265.55,137.70 L266.38,138.12 L267.22,138.54 L268.05,138.95 L268.89,139.37 L269.72,139.79 L270.55,140.20 L271.39,140.62 L272.22,141.04 L273.06,141.45 L273.89,141.86 L274.73,142.28 L275.56,142.69 L276.40,143.10 L277.23,143.51 L278.06,143.93 L278.90,144.34 L279.73,144.75 L280.57,145.15 L281.40,145.56 L282.24,145.97 L283.07,146.38 L283.91,146.78 L284.74,147.19 L285.58,147.59 L286.41,148.00 L287.24,148.40 L288.08,148.80 L288.91,149.21 L289.75,149.61 L290.58,150.01 L291.42,150.41 L292.25,150.81 L293.09,151.20 L293.92,151.60 L294.75,152.00 L295.59,152.39 L296.42,152.79 L297.26,153.18 L298.09,153.58 L298.93,153.97 L299.76,154.36 L300.60,154.75 L301.43,155.14 L302.26,155.53 L303.10,155.92 L303.93,156.31 L304.77,156.69 L305.60,157.08 L306.44,157.46 L307.27,157.85 L308.11,158.23 L308.94,158.61 L309.78,158.99 L310.61,159.37 L311.44,159.75 L312.28,160.13 L313.11,160.51 L313.95,160.88 L314.78,161.26 L315.62,161.63 L316.45,162.01 L317.29,162.38 L318.12,162.75 L318.95,163.12 L319.79,163.49 L320.62,163.86 L321.46,164.23 L322.29,164.59 L323.13,164.96 L323.96,165.32 L324.80,165.69 L325.63,166.05 L326.46,166.41 L327.30,166.77 L328.13,167.13 L328.97,167.49 L329.80,167.85 L330.64,168.21 L331.47,168.56 L332.31,168.92 L333.14,169.27 L333.98,169.62 L334.81,169.97 L335.64,170.32 L336.48,170.67 L337.31,171.02 L338.15,171.37 L338.98,171.71 L339.82,172.06 L340.65,172.40 L341.49,172.75 L342.32,173.09 L343.15,173.43 L343.99,173.77 L344.82,174.11 L345.66,174.44 L346.49,174.78 L347.33,175.12 L348.16,175.45 L349.00,175.78 L349.83,176.12 L350.66,176.45 L351.50,176.78 L352.33,177.10 L353.17,177.43 L354.00,177.76 L354.84,178.08 L355.67,178.41 L356.51,178.73 L357.34,179.05 L358.18,179.38 L359.01,179.70 L359.84,180.01" fill="none" stroke="#ff0000" stroke-width="2.3" stroke-linejoin="round"/>
<path d="M26.05,51.76 L26.88,51.76 L27.72,51.78 L28.55,51.81 L29.39,51.85 L30.22,51.91 L31.06,51.97 L31.89,52.05 L32.73,52.13 L33.56,52.23 L34.39,52.35 L35.23,52.47 L36.06,52.60 L36.90,52.75 L37.73,52.91 L38.57,53.08 L39.40,53.26 L40.24,53.45 L41.07,53.65 L41.91,53.87 L42.74,54.10 L43.57,54.33 L44.41,54.58 L45.24,54.84 L46.08,55.11 L46.91,55.40 L47.75,55.69 L48.58,55.99 L49.42,56.31 L50.25,56.63 L51.08,56.97 L51.92,57.32 L52.75,57.68 L53.59,58.05 L54.42,58.43 L55.26,58.81 L56.09,59.21 L56.93,59.63 L57.76,60.05 L58.59,60.48 L59.43,60.92 L60.26,61.37 L61.10,61.83 L61.93,62.30 L62.77,62.78 L63.60,63.27 L64.44,63.76 L65.27,64.27 L66.11,64.79 L66.94,65.32 L67.77,65.85 L68.61,66.39 L69.44,66.95 L70.28,67.51 L71.11,68.08 L71.95,68.66 L72.78,69.25 L73.62,69.84 L74.45,70.45 L75.28,71.06 L76.12,71.68 L76.95,72.31 L77.79,72.94 L78.62,73.58 L79.46,74.24 L80.29,74.89 L81.13,75.56 L81.96,76.23 L82.80,76.91 L83.63,77.60 L84.46,78.29 L85.30,78.99 L86.13,79.70 L86.97,80.41 L87.80,81.13 L88.64,81.85 L89.47,82.58 L90.31,83.32 L91.14,84.06 L91.97,84.81 L92.81,85.56 L93.64,86.32 L94.48,87.09 L95.31,87.86 L96.15,88.63 L96.98,89.41 L97.82,90.19 L98.65,90.98 L99.48,91.78 L100.32,92.57 L101.15,93.38 L101.99,94.18 L102.82,94.99 L103.66,95.80 L104.49,96.62 L105.33,97.44 L106.16,98.27 L107.00,99.09 L107.83,99.92 L108.66,100.76 L109.50,101.59 L110.33,102.43 L111.17,103.27 L112.00,104.12 L112.84,104.97 L113.67,105.81 L114.51,106.67 L115.34,107.52 L116.17,108.37 L117.01,109.23 L117.84,110.09 L118.68,110.95 L119.51,111.81 L120.35,112.68 L121.18,113.54 L122.02,114.41 L122.85,115.27 L123.68,116.14 L124.52,117.01 L125.35,117.87 L126.19,118.74 L127.02,119.61 L127.86,120.48 L128.69,121.35 L129.53,122.22 L130.36,123.09 L131.20,123.96 L132.03,124.83 L132.86,125.70 L133.70,126.57 L134.53,127.44 L135.37,128.30 L136.20,129.17 L137.04,130.04 L137.87,130.90 L138.71,131.76 L139.54,132.63 L140.37,133.49 L141.21,134.35 L142.04,135.21 L142.88,136.06 L143.71,136.92 L144.55,137.77 L145.38,138.62 L146.22,139.47 L147.05,140.32 L147.88,141.17 L148.72,142.01 L149.55,142.85 L150.39,143.69 L151.22,144.53 L152.06,145.36 L152.89,146.19 L153.73,147.02 L154.56,147.85 L155.40,148.67 L156.23,149.49 L157.06,150.31 L157.90,151.13 L158.73,151.94 L159.57,152.75 L160.40,153.55 L161.24,154.36 L162.07,155.15 L162.91,155.95 L163.74,156.74 L164.57,157.53 L165.41,158.32 L166.24,159.10 L167.08,159.88 L167.91,160.66 L168.75,161.43 L169.58,162.19 L170.42,162.96 L171.25,163.72 L172.08,164.48 L172.92,165.23 L173.75,165.98 L174.59,166.72 L175.42,167.46 L176.26,168.20 L177.09,168.93 L177.93,169.66 L178.76,170.38 L179.60,171.10 L180.43,171.82 L181.26,172.53 L182.10,173.24 L182.93,173.94 L183.77,174.64 L184.60,175.33 L185.44,176.02 L186.27,176.70 L187.11,177.39 L187.94,178.06 L188.77,178.73 L189.61,179.40 L190.44,180.06 L191.28,180.72 L192.11,181.37 L192.95,182.02 L193.78,182.67 L194.62,183.31 L195.45,183.94 L196.29,184.57 L197.12,185.20 L197.95,185.82 L198.79,186.44 L199.62,187.05 L200.46,187.66 L201.29,188.26 L202.13,188.86 L202.96,189.45 L203.80,190.04 L204.63,190.63 L205.46,191.21 L206.30,191.78 L207.13,192.35 L207.97,192.92 L208.80,193.48 L209.64,194.03 L210.47,194.59 L211.31,195.13 L212.14,195.68 L212.97,196.21 L213.81,196.75 L214.64,197.28 L215.48,197.80 L216.31,198.32 L217.15,198.83 L217.98,199.34 L218.82,199.85 L219.65,200.35 L220.49,200.85 L221.32,201.34 L222.15,201.83 L222.99,202.31 L223.82,202.79 L224.66,203.26 L225.49,203.73 L226.33,204.20 L227.16,204.66 L228.00,205.11 L228.83,205.57 L229.66,206.01 L230.50,206.46 L231.33,206.90 L232.17,207.33 L233.00,207.76 L233.84,208.19 L234.67,208.61 L235.51,209.03 L236.34,209.44 L237.17,209.85 L238.01,210.26 L238.84,210.66 L239.68,211.05 L240.51,211.45 L241.35,211.84 L242.18,212.22 L243.02,212.60 L243.85,212.98 L244.69,213.35 L245.52,213.72 L246.35,214.09 L247.19,214.45 L248.02,214.80 L248.86,215.16 L249.69,215.51 L250.53,215.85 L251.36,216.19 L252.20,216.53 L253.03,216.87 L253.86,217.20 L254.70,217.53 L255.53,217.85 L256.37,218.17 L257.20,218.49 L258.04,218.80 L258.87,219.11 L259.71,219.41 L260.54,219.72 L261.37,220.02 L262.21,220.31 L263.04,220.60 L263.88,220.89 L264.71,221.18 L265.55,221.46 L266.38,221.74 L267.22,222.01 L268.05,222.29 L268.89,222.56 L269.72,222.82 L270.55,223.08 L271.39,223.34 L272.22,223.60 L273.06,223.85 L273.89,224.10 L274.73,224.35 L275.56,224.60 L276.40,224.84 L277.23,225.08 L278.06,225.31 L278.90,225.55 L279.73,225.78 L280.57,226.00 L281.40,226.23 L282.24,226.45 L283.07,226.67 L283.91,226.88 L284.74,227.10 L285.58,227.31 L286.41,227.52 L287.24,227.72 L288.08,227.93 L288.91,228.13 L289.75,228.33 L290.58,228.52 L291.42,228.71 L292.25,228.90 L293.09,229.09 L293.92,229.28 L294.75,229.46 L295.59,229.64 L296.42,229.82 L297.26,230.00 L298.09,230.17 L298.93,230.34 L299.76,230.51 L300.60,230.68 L301.43,230.85 L302.26,231.01 L303.10,231.17 L303.93,231.33 L304.77,231.49 L305.60,231.64 L306.44,231.80 L307.27,231.95 L308.11,232.10 L308.94,232.24 L309.78,232.39 L310.61,232.53 L311.44,232.67 L312.28,232.81 L313.11,232.95 L313.95,233.08 L314.78,233.22 L315.62,233.35 L316.45,233.48 L317.29,233.61 L318.12,233.73 L318.95,233.86 L319.79,233.98 L320.62,234.10 L321.46,234.22 L322.29,234.34 L323.13,234.46 L323.96,234.57 L324.80,234.69 L325.63,234.80 L326.46,234.91 L327.30,235.02 L328.13,235.13 L328.97,235.23 L329.80,235.34 L330.64,235.44 L331.47,235.54 L332.31,235.64 L333.14,235.74 L333.98,235.84 L334.81,235.93 L335.64,236.03 L336.48,236.12 L337.31,236.21 L338.15,236.30 L338.98,236.39 L339.82,236.48 L340.65,236.57 L341.49,236.65 L342.32,236.74 L343.15,236.82 L343.99,236.91 L344.82,236.99 L345.66,237.07 L346.49,237.15 L347.33,237.22 L348.16,237.30 L349.00,237.38 L349.83,237.45 L350.66,237.52 L351.50,237.60 L352.33,237.67 L353.17,237.74 L354.00,237.81 L354.84,237.87 L355.67,237.94 L356.51,238.01 L357.34,238.07 L358.18,238.14 L359.01,238.20 L359.84,238.26" fill="none" stroke="#00a500" stroke-width="2.3" stroke-linejoin="round"/>
<path d="M26.05,56.93 L26.88,56.96 L27.72,57.03 L28.55,57.14 L29.39,57.30 L30.22,57.51 L31.06,57.76 L31.89,58.05 L32.73,58.39 L33.56,58.78 L34.39,59.21 L35.23,59.68 L36.06,60.20 L36.90,60.76 L37.73,61.36 L38.57,62.00 L39.40,62.69 L40.24,63.42 L41.07,64.19 L41.91,64.99 L42.74,65.84 L43.57,66.72 L44.41,67.65 L45.24,68.61 L46.08,69.60 L46.91,70.63 L47.75,71.70 L48.58,72.80 L49.42,73.93 L50.25,75.10 L51.08,76.29 L51.92,77.52 L52.75,78.78 L53.59,80.06 L54.42,81.37 L55.26,82.71 L56.09,84.07 L56.93,85.46 L57.76,86.87 L58.59,88.31 L59.43,89.76 L60.26,91.24 L61.10,92.74 L61.93,94.25 L62.77,95.79 L63.60,97.33 L64.44,98.90 L65.27,100.48 L66.11,102.07 L66.94,103.68 L67.77,105.29 L68.61,106.92 L69.44,108.56 L70.28,110.20 L71.11,111.85 L71.95,113.51 L72.78,115.18 L73.62,116.85 L74.45,118.52 L75.28,120.20 L76.12,121.88 L76.95,123.56 L77.79,125.24 L78.62,126.92 L79.46,128.60 L80.29,130.27 L81.13,131.95 L81.96,133.62 L82.80,135.28 L83.63,136.94 L84.46,138.60 L85.30,140.25 L86.13,141.89 L86.97,143.52 L87.80,145.15 L88.64,146.76 L89.47,148.37 L90.31,149.97 L91.14,151.55 L91.97,153.13 L92.81,154.69 L93.64,156.24 L94.48,157.78 L95.31,159.30 L96.15,160.81 L96.98,162.31 L97.82,163.79 L98.65,165.26 L99.48,166.71 L100.32,168.15 L101.15,169.57 L101.99,170.98 L102.82,172.37 L103.66,173.75 L104.49,175.10 L105.33,176.44 L106.16,177.77 L107.00,179.08 L107.83,180.37 L108.66,181.64 L109.50,182.89 L110.33,184.13 L111.17,185.35 L112.00,186.55 L112.84,187.74 L113.67,188.90 L114.51,190.05 L115.34,191.18 L116.17,192.30 L117.01,193.39 L117.84,194.47 L118.68,195.53 L119.51,196.57 L120.35,197.59 L121.18,198.60 L122.02,199.59 L122.85,200.56 L123.68,201.52 L124.52,202.46 L125.35,203.38 L126.19,204.28 L127.02,205.17 L127.86,206.04 L128.69,206.89 L129.53,207.73 L130.36,208.55 L131.20,209.35 L132.03,210.14 L132.86,210.92 L133.70,211.67 L134.53,212.42 L135.37,213.14 L136.20,213.86 L137.04,214.55 L137.87,215.24 L138.71,215.90 L139.54,216.56 L140.37,217.20 L141.21,217.83 L142.04,218.44 L142.88,219.04 L143.71,219.62 L144.55,220.20 L145.38,220.76 L146.22,221.31 L147.05,221.84 L147.88,222.36 L148.72,222.88 L149.55,223.38 L150.39,223.86 L151.22,224.34 L152.06,224.81 L152.89,225.26 L153.73,225.70 L154.56,226.14 L155.40,226.56 L156.23,226.97 L157.06,227.38 L157.90,227.77 L158.73,228.15 L159.57,228.53 L160.40,228.89 L161.24,229.25 L162.07,229.60 L162.91,229.94 L163.74,230.27 L164.57,230.59 L165.41,230.91 L166.24,231.21 L167.08,231.51 L167.91,231.80 L168.75,232.08 L169.58,232.36 L170.42,232.63 L171.25,232.89 L172.08,233.15 L172.92,233.40 L173.75,233.64 L174.59,233.88 L175.42,234.11 L176.26,234.33 L177.09,234.55 L177.93,234.76 L178.76,234.97 L179.60,235.17 L180.43,235.37 L181.26,235.56 L182.10,235.75 L182.93,235.93 L183.77,236.11 L184.60,236.28 L185.44,236.44 L186.27,236.61 L187.11,236.77 L187.94,236.92 L188.77,237.07 L189.61,237.22 L190.44,237.36 L191.28,237.50 L192.11,237.63 L192.95,237.76 L193.78,237.89 L194.62,238.01 L195.45,238.13 L196.29,238.25 L197.12,238.37 L197.95,238.48 L198.79,238.58 L199.62,238.69 L200.46,238.79 L201.29,238.89 L202.13,238.99 L202.96,239.08 L203.80,239.17 L204.63,239.26 L205.46,239.35 L206.30,239.43 L207.13,239.52 L207.97,239.59 L208.80,239.67 L209.64,239.75 L210.47,239.82 L211.31,239.89 L212.14,239.96 L212.97,240.03 L213.81,240.09 L214.64,240.16 L215.48,240.22 L216.31,240.28 L217.15,240.34 L217.98,240.40 L218.82,240.45 L219.65,240.51 L220.49,240.56 L221.32,240.61 L222.15,240.66 L222.99,240.71 L223.82,240.75 L224.66,240.80 L225.49,240.84 L226.33,240.89 L227.16,240.93 L228.00,240.97 L228.83,241.01 L229.66,241.05 L230.50,241.09 L231.33,241.12 L232.17,241.16 L233.00,241.19 L233.84,241.23 L234.67,241.26 L235.51,241.29 L236.34,241.32 L237.17,241.35 L238.01,241.38 L238.84,241.41 L239.68,241.44 L240.51,241.46 L241.35,241.49 L242.18,241.52 L243.02,241.54 L243.85,241.57 L244.69,241.59 L245.52,241.61 L246.35,241.63 L247.19,241.66 L248.02,241.68 L248.86,241.70 L249.69,241.72 L250.53,241.74 L251.36,241.76 L252.20,241.77 L253.03,241.79 L253.86,241.81 L254.70,241.83 L255.53,241.84 L256.37,241.86 L257.20,241.88 L258.04,241.89 L258.87,241.91 L259.71,241.92 L260.54,241.93 L261.37,241.95 L262.21,241.96 L263.04,241.97 L263.88,241.99 L264.71,242.00 L265.55,242.01 L266.38,242.02 L267.22,242.03 L268.05,242.04 L268.89,242.06 L269.72,242.07 L270.55,242.08 L271.39,242.09 L272.22,242.10 L273.06,242.11 L273.89,242.11 L274.73,242.12 L275.56,242.13 L276.40,242.14 L277.23,242.15 L278.06,242.16 L278.90,242.17 L279.73,242.17 L280.57,242.18 L281.40,242.19 L282.24,242.19 L283.07,242.20 L283.91,242.21 L284.74,242.22 L285.58,242.22 L286.41,242.23 L287.24,242.23 L288.08,242.24 L288.91,242.25 L289.75,242.25 L290.58,242.26 L291.42,242.26 L292.25,242.27 L293.09,242.27 L293.92,242.28 L294.75,242.28 L295.59,242.29 L296.42,242.29 L297.26,242.30 L298.09,242.30 L298.93,242.31 L299.76,242.31 L300.60,242.31 L301.43,242.32 L302.26,242.32 L303.10,242.33 L303.93,242.33 L304.77,242.33 L305.60,242.34 L306.44,242.34 L307.27,242.34 L308.11,242.35 L308.94,242.35 L309.78,242.35 L310.61,242.36 L311.44,242.36 L312.28,242.36 L313.11,242.36 L313.95,242.37 L314.78,242.37 L315.62,242.37 L316.45,242.38 L317.29,242.38 L318.12,242.38 L318.95,242.38 L319.79,242.38 L320.62,242.39 L321.46,242.39 L322.29,242.39 L323.13,242.39 L323.96,242.40 L324.80,242.40 L325.63,242.40 L326.46,242.40 L327.30,242.40 L328.13,242.41 L328.97,242.41 L329.80,242.41 L330.64,242.41 L331.47,242.41 L332.31,242.41 L333.14,242.42 L333.98,242.42 L334.81,242.42 L335.64,242.42 L336.48,242.42 L337.31,242.42 L338.15,242.43 L338.98,242.43 L339.82,242.43 L340.65,242.43 L341.49,242.43 L342.32,242.43 L343.15,242.43 L343.99,242.43 L344.82,242.44 L345.66,242.44 L346.49,242.44 L347.33,242.44 L348.16,242.44 L349.00,242.44 L349.83,242.44 L350.66,242.44 L351.50,242.44 L352.33,242.45 L353.17,242.45 L354.00,242.45 L354.84,242.45 L355.67,242.45 L356.51,242.45 L357.34,242.45 L358.18,242.45 L359.01,242.45 L359.84,242.45" fill="none" stroke="#ff00ff" stroke-width="2.3" stroke-linejoin="round"/>
<path d="M26.05,102.75 L26.64,102.81 L27.24,102.97 L27.83,103.24 L28.42,103.62 L29.01,104.10 L29.61,104.69 L30.20,105.39 L30.79,106.18 L31.39,107.08 L31.98,108.07 L32.57,109.15 L33.16,110.33 L33.76,111.60 L34.35,112.95 L34.94,114.39 L35.54,115.90 L36.13,117.48 L36.72,119.14 L37.31,120.87 L37.91,122.65 L38.50,124.50 L39.09,126.40 L39.69,128.35 L40.28,130.35 L40.87,132.39 L41.46,134.46 L42.06,136.57 L42.65,138.70 L43.24,140.86 L43.84,143.05 L44.43,145.24 L45.02,147.45 L45.61,149.67 L46.21,151.90 L46.80,154.12 L47.39,156.34 L47.99,158.56 L48.58,160.77 L49.17,162.96 L49.77,165.14 L50.36,167.31 L50.95,169.45 L51.54,171.57 L52.14,173.67 L52.73,175.73 L53.32,177.77 L53.92,179.78 L54.51,181.76 L55.10,183.70 L55.69,185.61 L56.29,187.48 L56.88,189.31 L57.47,191.11 L58.07,192.86 L58.66,194.58 L59.25,196.25 L59.84,197.89 L60.44,199.48 L61.03,201.03 L61.62,202.54 L62.22,204.01 L62.81,205.44 L63.40,206.83 L63.99,208.17 L64.59,209.48 L65.18,210.75 L65.77,211.97 L66.37,213.16 L66.96,214.31 L67.55,215.42 L68.14,216.49 L68.74,217.53 L69.33,218.53 L69.92,219.50 L70.52,220.43 L71.11,221.33 L71.70,222.20 L72.29,223.03 L72.89,223.84 L73.48,224.61 L74.07,225.36 L74.67,226.07 L75.26,226.76 L75.85,227.42 L76.44,228.06 L77.04,228.67 L77.63,229.25 L78.22,229.81 L78.82,230.35 L79.41,230.87 L80.00,231.37 L80.59,231.84 L81.19,232.30 L81.78,232.74 L82.37,233.15 L82.97,233.56 L83.56,233.94 L84.15,234.31 L84.74,234.66 L85.34,235.00 L85.93,235.32 L86.52,235.63 L87.12,235.92 L87.71,236.21 L88.30,236.48 L88.89,236.74 L89.49,236.98 L90.08,237.22 L90.67,237.44 L91.27,237.66 L91.86,237.87 L92.45,238.07 L93.04,238.25 L93.64,238.43 L94.23,238.61 L94.82,238.77 L95.42,238.93 L96.01,239.08 L96.60,239.22 L97.20,239.36 L97.79,239.49 L98.38,239.62 L98.97,239.74 L99.57,239.85 L100.16,239.96 L100.75,240.07 L101.35,240.17 L101.94,240.26 L102.53,240.36 L103.12,240.44 L103.72,240.53 L104.31,240.61 L104.90,240.68 L105.50,240.76 L106.09,240.83 L106.68,240.89 L107.27,240.96 L107.87,241.02 L108.46,241.08 L109.05,241.13 L109.65,241.19 L110.24,241.24 L110.83,241.29 L111.42,241.33 L112.02,241.38 L112.61,241.42 L113.20,241.46 L113.80,241.50 L114.39,241.54 L114.98,241.58 L115.57,241.61 L116.17,241.65 L116.76,241.68 L117.35,241.71 L117.95,241.74 L118.54,241.76 L119.13,241.79 L119.72,241.82 L120.32,241.84 L120.91,241.87 L121.50,241.89 L122.10,241.91 L122.69,241.93 L123.28,241.95 L123.87,241.97 L124.47,241.99 L125.06,242.01 L125.65,242.02 L126.25,242.04 L126.84,242.06 L127.43,242.07 L128.02,242.08 L128.62,242.10 L129.21,242.11 L129.80,242.13 L130.40,242.14 L130.99,242.15 L131.58,242.16 L132.17,242.17 L132.77,242.18 L133.36,242.19 L133.95,242.20 L134.55,242.21 L135.14,242.22 L135.73,242.23 L136.32,242.24 L136.92,242.25 L137.51,242.25 L138.10,242.26 L138.70,242.27 L139.29,242.28 L139.88,242.28 L140.47,242.29 L141.07,242.29 L141.66,242.30 L142.25,242.31 L142.85,242.31 L143.44,242.32 L144.03,242.32 L144.63,242.33 L145.22,242.33 L145.81,242.34 L146.40,242.34 L147.00,242.35 L147.59,242.35 L148.18,242.35 L148.78,242.36 L149.37,242.36 L149.96,242.37 L150.55,242.37 L151.15,242.37 L151.74,242.38 L152.33,242.38 L152.93,242.38 L153.52,242.39 L154.11,242.39 L154.70,242.39 L155.30,242.39 L155.89,242.40 L156.48,242.40 L157.08,242.40 L157.67,242.40 L158.26,242.41 L158.85,242.41 L159.45,242.41 L160.04,242.41 L160.63,242.42 L161.23,242.42 L161.82,242.42 L162.41,242.42 L163.00,242.42 L163.60,242.43 L164.19,242.43 L164.78,242.43 L165.38,242.43 L165.97,242.43 L166.56,242.43 L167.15,242.43 L167.75,242.44 L168.34,242.44 L168.93,242.44 L169.53,242.44 L170.12,242.44 L170.71,242.44 L171.30,242.44 L171.90,242.45 L172.49,242.45 L173.08,242.45 L173.68,242.45 L174.27,242.45 L174.86,242.45 L175.45,242.45 L176.05,242.45 L176.64,242.45 L177.23,242.45 L177.83,242.46 L178.42,242.46 L179.01,242.46 L179.60,242.46 L180.20,242.46 L180.79,242.46 L181.38,242.46 L181.98,242.46 L182.57,242.46 L183.16,242.46 L183.75,242.46 L184.35,242.46 L184.94,242.46 L185.53,242.47 L186.13,242.47 L186.72,242.47 L187.31,242.47 L187.90,242.47 L188.50,242.47 L189.09,242.47 L189.68,242.47 L190.28,242.47 L190.87,242.47 L191.46,242.47 L192.06,242.47 L192.65,242.47 L193.24,242.47 L193.83,242.47 L194.43,242.47 L195.02,242.47 L195.61,242.47 L196.21,242.47 L196.80,242.47 L197.39,242.48 L197.98,242.48 L198.58,242.48 L199.17,242.48 L199.76,242.48 L200.36,242.48 L200.95,242.48 L201.54,242.48 L202.13,242.48 L202.73,242.48 L203.32,242.48 L203.91,242.48 L204.51,242.48 L205.10,242.48 L205.69,242.48 L206.28,242.48 L206.88,242.48 L207.47,242.48 L208.06,242.48 L208.66,242.48 L209.25,242.48 L209.84,242.48 L210.43,242.48 L211.03,242.48 L211.62,242.48 L212.21,242.48 L212.81,242.48 L213.40,242.48 L213.99,242.48 L214.58,242.48 L215.18,242.48 L215.77,242.48 L216.36,242.48 L216.96,242.48 L217.55,242.48 L218.14,242.48 L218.73,242.49 L219.33,242.49 L219.92,242.49 L220.51,242.49 L221.11,242.49 L221.70,242.49 L222.29,242.49 L222.88,242.49 L223.48,242.49 L224.07,242.49 L224.66,242.49 L225.26,242.49 L225.85,242.49 L226.44,242.49 L227.03,242.49 L227.63,242.49 L228.22,242.49 L228.81,242.49 L229.41,242.49 L230.00,242.49 L230.59,242.49 L231.18,242.49 L231.78,242.49 L232.37,242.49 L232.96,242.49 L233.56,242.49 L234.15,242.49 L234.74,242.49 L235.33,242.49 L235.93,242.49 L236.52,242.49 L237.11,242.49 L237.71,242.49 L238.30,242.49 L238.89,242.49 L239.49,242.49 L240.08,242.49 L240.67,242.49 L241.26,242.49 L241.86,242.49 L242.45,242.49 L243.04,242.49 L243.64,242.49 L244.23,242.49 L244.82,242.49 L245.41,242.49 L246.01,242.49 L246.60,242.49 L247.19,242.49 L247.79,242.49 L248.38,242.49 L248.97,242.49 L249.56,242.49 L250.16,242.49 L250.75,242.49 L251.34,242.49 L251.94,242.49 L252.53,242.49 L253.12,242.49 L253.71,242.49 L254.31,242.49 L254.90,242.49 L255.49,242.49 L256.09,242.49 L256.68,242.49 L257.27,242.49 L257.86,242.49 L258.46,242.49 L259.05,242.49 L259.64,242.49 L260.24,242.49 L260.83,242.49 L261.42,242.49 L262.01,242.49 L262.61,242.49 L263.20,242.49" fill="none" stroke="#000000" stroke-width="2.3" stroke-linejoin="round"/>
<path d="M26.05,161.89 L26.45,161.92 L26.84,162.02 L27.24,162.17 L27.63,162.39 L28.03,162.67 L28.42,163.01 L28.82,163.41 L29.21,163.87 L29.61,164.39 L30.00,164.96 L30.40,165.58 L30.79,166.26 L31.19,166.99 L31.58,167.77 L31.98,168.60 L32.37,169.47 L32.77,170.39 L33.16,171.35 L33.56,172.34 L33.95,173.37 L34.35,174.44 L34.75,175.53 L35.14,176.66 L35.54,177.81 L35.93,178.98 L36.33,180.18 L36.72,181.40 L37.12,182.63 L37.51,183.88 L37.91,185.13 L38.30,186.40 L38.70,187.68 L39.09,188.96 L39.49,190.24 L39.88,191.52 L40.28,192.80 L40.67,194.08 L41.07,195.35 L41.46,196.62 L41.86,197.88 L42.26,199.13 L42.65,200.36 L43.05,201.59 L43.44,202.80 L43.84,203.99 L44.23,205.16 L44.63,206.32 L45.02,207.46 L45.42,208.58 L45.81,209.68 L46.21,210.76 L46.60,211.82 L47.00,212.85 L47.39,213.87 L47.79,214.86 L48.18,215.82 L48.58,216.77 L48.97,217.68 L49.37,218.58 L49.77,219.45 L50.16,220.30 L50.56,221.12 L50.95,221.92 L51.35,222.70 L51.74,223.45 L52.14,224.18 L52.53,224.89 L52.93,225.58 L53.32,226.24 L53.72,226.88 L54.11,227.50 L54.51,228.10 L54.90,228.68 L55.30,229.23 L55.69,229.77 L56.09,230.29 L56.48,230.79 L56.88,231.27 L57.27,231.74 L57.67,232.18 L58.07,232.61 L58.46,233.02 L58.86,233.42 L59.25,233.80 L59.65,234.17 L60.04,234.52 L60.44,234.86 L60.83,235.18 L61.23,235.49 L61.62,235.79 L62.02,236.08 L62.41,236.35 L62.81,236.62 L63.20,236.87 L63.60,237.11 L63.99,237.34 L64.39,237.56 L64.78,237.77 L65.18,237.98 L65.58,238.17 L65.97,238.36 L66.37,238.54 L66.76,238.71 L67.16,238.87 L67.55,239.03 L67.95,239.17 L68.34,239.32 L68.74,239.45 L69.13,239.58 L69.53,239.71 L69.92,239.83 L70.32,239.94 L70.71,240.05 L71.11,240.15 L71.50,240.25 L71.90,240.35 L72.29,240.44 L72.69,240.53 L73.08,240.61 L73.48,240.69 L73.88,240.77 L74.27,240.84 L74.67,240.91 L75.06,240.97 L75.46,241.04 L75.85,241.10 L76.25,241.16 L76.64,241.21 L77.04,241.26 L77.43,241.31 L77.83,241.36 L78.22,241.41 L78.62,241.45 L79.01,241.49 L79.41,241.53 L79.80,241.57 L80.20,241.61 L80.59,241.65 L80.99,241.68 L81.38,241.71 L81.78,241.74 L82.18,241.77 L82.57,241.80 L82.97,241.83 L83.36,241.85 L83.76,241.88 L84.15,241.90 L84.55,241.93 L84.94,241.95 L85.34,241.97 L85.73,241.99 L86.13,242.01 L86.52,242.03 L86.92,242.04 L87.31,242.06 L87.71,242.08 L88.10,242.09 L88.50,242.11 L88.89,242.12 L89.29,242.13 L89.69,242.15 L90.08,242.16 L90.48,242.17 L90.87,242.18 L91.27,242.19 L91.66,242.20 L92.06,242.22 L92.45,242.23 L92.85,242.23 L93.24,242.24 L93.64,242.25 L94.03,242.26 L94.43,242.27 L94.82,242.28 L95.22,242.28 L95.61,242.29 L96.01,242.30 L96.40,242.30 L96.80,242.31 L97.19,242.32 L97.59,242.32 L97.99,242.33 L98.38,242.33 L98.78,242.34 L99.17,242.34 L99.57,242.35 L99.96,242.35 L100.36,242.36 L100.75,242.36 L101.15,242.37 L101.54,242.37 L101.94,242.37 L102.33,242.38 L102.73,242.38 L103.12,242.39 L103.52,242.39 L103.91,242.39 L104.31,242.39 L104.70,242.40 L105.10,242.40 L105.50,242.40 L105.89,242.41 L106.29,242.41 L106.68,242.41 L107.08,242.41 L107.47,242.42 L107.87,242.42 L108.26,242.42 L108.66,242.42 L109.05,242.43 L109.45,242.43 L109.84,242.43 L110.24,242.43 L110.63,242.43 L111.03,242.43 L111.42,242.44 L111.82,242.44 L112.21,242.44 L112.61,242.44 L113.00,242.44 L113.40,242.44 L113.80,242.45 L114.19,242.45 L114.59,242.45 L114.98,242.45 L115.38,242.45 L115.77,242.45 L116.17,242.45 L116.56,242.45 L116.96,242.45 L117.35,242.46 L117.75,242.46 L118.14,242.46 L118.54,242.46 L118.93,242.46 L119.33,242.46 L119.72,242.46 L120.12,242.46 L120.51,242.46 L120.91,242.46 L121.31,242.46 L121.70,242.47 L122.10,242.47 L122.49,242.47 L122.89,242.47 L123.28,242.47 L123.68,242.47 L124.07,242.47 L124.47,242.47 L124.86,242.47 L125.26,242.47 L125.65,242.47 L126.05,242.47 L126.44,242.47 L126.84,242.47 L127.23,242.47 L127.63,242.47 L128.02,242.48 L128.42,242.48 L128.81,242.48 L129.21,242.48 L129.61,242.48 L130.00,242.48 L130.40,242.48 L130.79,242.48 L131.19,242.48 L131.58,242.48 L131.98,242.48 L132.37,242.48 L132.77,242.48 L133.16,242.48 L133.56,242.48 L133.95,242.48 L134.35,242.48 L134.74,242.48 L135.14,242.48 L135.53,242.48 L135.93,242.48 L136.32,242.48 L136.72,242.48 L137.12,242.48 L137.51,242.48 L137.91,242.48 L138.30,242.48 L138.70,242.48 L139.09,242.49 L139.49,242.49 L139.88,242.49 L140.28,242.49 L140.67,242.49 L141.07,242.49 L141.46,242.49 L141.86,242.49 L142.25,242.49 L142.65,242.49 L143.04,242.49 L143.44,242.49 L143.83,242.49 L144.23,242.49 L144.62,242.49 L145.02,242.49 L145.42,242.49 L145.81,242.49 L146.21,242.49 L146.60,242.49 L147.00,242.49 L147.39,242.49 L147.79,242.49 L148.18,242.49 L148.58,242.49 L148.97,242.49 L149.37,242.49 L149.76,242.49 L150.16,242.49 L150.55,242.49 L150.95,242.49 L151.34,242.49 L151.74,242.49 L152.13,242.49 L152.53,242.49 L152.93,242.49 L153.32,242.49 L153.72,242.49 L154.11,242.49 L154.51,242.49 L154.90,242.49 L155.30,242.49 L155.69,242.49 L156.09,242.49 L156.48,242.49 L156.88,242.49 L157.27,242.49 L157.67,242.49 L158.06,242.49 L158.46,242.49 L158.85,242.49 L159.25,242.49 L159.64,242.49 L160.04,242.49 L160.44,242.49 L160.83,242.49 L161.23,242.49 L161.62,242.49 L162.02,242.49 L162.41,242.49 L162.81,242.49 L163.20,242.49 L163.60,242.49 L163.99,242.49 L164.39,242.49 L164.78,242.49 L165.18,242.49 L165.57,242.49 L165.97,242.49 L166.36,242.49 L166.76,242.49 L167.15,242.49 L167.55,242.49 L167.94,242.49 L168.34,242.49 L168.74,242.49 L169.13,242.49 L169.53,242.49 L169.92,242.49 L170.32,242.49 L170.71,242.49 L171.11,242.49 L171.50,242.49 L171.90,242.49 L172.29,242.49 L172.69,242.49 L173.08,242.49 L173.48,242.49 L173.87,242.49 L174.27,242.49 L174.66,242.50 L175.06,242.50 L175.45,242.50 L175.85,242.50 L176.24,242.50 L176.64,242.50 L177.04,242.50 L177.43,242.50 L177.83,242.50 L178.22,242.50 L178.62,242.50 L179.01,242.50 L179.41,242.50 L179.80,242.50 L180.20,242.50 L180.59,242.50 L180.99,242.50 L181.38,242.50 L181.78,242.50 L182.17,242.50 L182.57,242.50 L182.96,242.50 L183.36,242.50 L183.75,242.50 L184.15,242.50" fill="none" stroke="#00f6ff" stroke-width="2.3" stroke-linejoin="round"/>
<path d="M26.05,226.21 L26.30,226.21 L26.54,226.23 L26.79,226.26 L27.04,226.31 L27.29,226.36 L27.53,226.43 L27.78,226.51 L28.03,226.61 L28.27,226.71 L28.52,226.83 L28.77,226.95 L29.01,227.09 L29.26,227.24 L29.51,227.39 L29.76,227.56 L30.00,227.74 L30.25,227.92 L30.50,228.12 L30.74,228.32 L30.99,228.53 L31.24,228.74 L31.48,228.96 L31.73,229.19 L31.98,229.42 L32.23,229.66 L32.47,229.90 L32.72,230.15 L32.97,230.40 L33.21,230.65 L33.46,230.90 L33.71,231.16 L33.95,231.42 L34.20,231.68 L34.45,231.94 L34.70,232.20 L34.94,232.45 L35.19,232.71 L35.44,232.97 L35.68,233.23 L35.93,233.48 L36.18,233.73 L36.43,233.98 L36.67,234.23 L36.92,234.47 L37.17,234.72 L37.41,234.95 L37.66,235.19 L37.91,235.42 L38.15,235.64 L38.40,235.87 L38.65,236.08 L38.90,236.30 L39.14,236.51 L39.39,236.71 L39.64,236.91 L39.88,237.11 L40.13,237.30 L40.38,237.48 L40.62,237.66 L40.87,237.84 L41.12,238.01 L41.37,238.18 L41.61,238.34 L41.86,238.50 L42.11,238.65 L42.35,238.80 L42.60,238.94 L42.85,239.08 L43.10,239.21 L43.34,239.34 L43.59,239.47 L43.84,239.59 L44.08,239.71 L44.33,239.82 L44.58,239.93 L44.82,240.03 L45.07,240.13 L45.32,240.23 L45.57,240.32 L45.81,240.41 L46.06,240.50 L46.31,240.58 L46.55,240.66 L46.80,240.74 L47.05,240.82 L47.29,240.89 L47.54,240.96 L47.79,241.02 L48.04,241.08 L48.28,241.14 L48.53,241.20 L48.78,241.26 L49.02,241.31 L49.27,241.36 L49.52,241.41 L49.77,241.46 L50.01,241.50 L50.26,241.54 L50.51,241.59 L50.75,241.63 L51.00,241.66 L51.25,241.70 L51.49,241.73 L51.74,241.77 L51.99,241.80 L52.24,241.83 L52.48,241.86 L52.73,241.88 L52.98,241.91 L53.22,241.94 L53.47,241.96 L53.72,241.98 L53.96,242.00 L54.21,242.03 L54.46,242.05 L54.71,242.07 L54.95,242.08 L55.20,242.10 L55.45,242.12 L55.69,242.13 L55.94,242.15 L56.19,242.16 L56.43,242.18 L56.68,242.19 L56.93,242.20 L57.18,242.22 L57.42,242.23 L57.67,242.24 L57.92,242.25 L58.16,242.26 L58.41,242.27 L58.66,242.28 L58.91,242.29 L59.15,242.30 L59.40,242.30 L59.65,242.31 L59.89,242.32 L60.14,242.33 L60.39,242.33 L60.63,242.34 L60.88,242.35 L61.13,242.35 L61.38,242.36 L61.62,242.36 L61.87,242.37 L62.12,242.37 L62.36,242.38 L62.61,242.38 L62.86,242.39 L63.10,242.39 L63.35,242.40 L63.60,242.40 L63.85,242.40 L64.09,242.41 L64.34,242.41 L64.59,242.41 L64.83,242.42 L65.08,242.42 L65.33,242.42 L65.58,242.43 L65.82,242.43 L66.07,242.43 L66.32,242.43 L66.56,242.44 L66.81,242.44 L67.06,242.44 L67.30,242.44 L67.55,242.44 L67.80,242.45 L68.05,242.45 L68.29,242.45 L68.54,242.45 L68.79,242.45 L69.03,242.45 L69.28,242.46 L69.53,242.46 L69.77,242.46 L70.02,242.46 L70.27,242.46 L70.52,242.46 L70.76,242.46 L71.01,242.47 L71.26,242.47 L71.50,242.47 L71.75,242.47 L72.00,242.47 L72.24,242.47 L72.49,242.47 L72.74,242.47 L72.99,242.47 L73.23,242.47 L73.48,242.47 L73.73,242.48 L73.97,242.48 L74.22,242.48 L74.47,242.48 L74.72,242.48 L74.96,242.48 L75.21,242.48 L75.46,242.48 L75.70,242.48 L75.95,242.48 L76.20,242.48 L76.44,242.48 L76.69,242.48 L76.94,242.48 L77.19,242.48 L77.43,242.48 L77.68,242.48 L77.93,242.48 L78.17,242.49 L78.42,242.49 L78.67,242.49 L78.91,242.49 L79.16,242.49 L79.41,242.49 L79.66,242.49 L79.90,242.49 L80.15,242.49 L80.40,242.49 L80.64,242.49 L80.89,242.49 L81.14,242.49 L81.39,242.49 L81.63,242.49 L81.88,242.49 L82.13,242.49 L82.37,242.49 L82.62,242.49 L82.87,242.49 L83.11,242.49 L83.36,242.49 L83.61,242.49 L83.86,242.49 L84.10,242.49 L84.35,242.49 L84.60,242.49 L84.84,242.49 L85.09,242.49 L85.34,242.49 L85.58,242.49 L85.83,242.49 L86.08,242.49 L86.33,242.49 L86.57,242.49 L86.82,242.49 L87.07,242.49 L87.31,242.49 L87.56,242.49 L87.81,242.49 L88.05,242.49 L88.30,242.49 L88.55,242.49 L88.80,242.49 L89.04,242.49 L89.29,242.49 L89.54,242.49 L89.78,242.50 L90.03,242.50 L90.28,242.50 L90.53,242.50 L90.77,242.50 L91.02,242.50 L91.27,242.50 L91.51,242.50 L91.76,242.50 L92.01,242.50 L92.25,242.50 L92.50,242.50 L92.75,242.50 L93.00,242.50 L93.24,242.50 L93.49,242.50 L93.74,242.50 L93.98,242.50 L94.23,242.50 L94.48,242.50 L94.72,242.50 L94.97,242.50 L95.22,242.50 L95.47,242.50 L95.71,242.50 L95.96,242.50 L96.21,242.50 L96.45,242.50 L96.70,242.50 L96.95,242.50 L97.20,242.50 L97.44,242.50 L97.69,242.50 L97.94,242.50 L98.18,242.50 L98.43,242.50 L98.68,242.50 L98.92,242.50 L99.17,242.50 L99.42,242.50 L99.67,242.50 L99.91,242.50 L100.16,242.50 L100.41,242.50 L100.65,242.50 L100.90,242.50 L101.15,242.50 L101.39,242.50 L101.64,242.50 L101.89,242.50 L102.14,242.50 L102.38,242.50 L102.63,242.50 L102.88,242.50 L103.12,242.50 L103.37,242.50 L103.62,242.50 L103.86,242.50 L104.11,242.50 L104.36,242.50 L104.61,242.50 L104.85,242.50 L105.10,242.50 L105.35,242.50 L105.59,242.50 L105.84,242.50 L106.09,242.50 L106.34,242.50 L106.58,242.50 L106.83,242.50 L107.08,242.50 L107.32,242.50 L107.57,242.50 L107.82,242.50 L108.06,242.50 L108.31,242.50 L108.56,242.50 L108.81,242.50 L109.05,242.50 L109.30,242.50 L109.55,242.50 L109.79,242.50 L110.04,242.50 L110.29,242.50 L110.53,242.50 L110.78,242.50 L111.03,242.50 L111.28,242.50 L111.52,242.50 L111.77,242.50 L112.02,242.50 L112.26,242.50 L112.51,242.50 L112.76,242.50 L113.00,242.50 L113.25,242.50 L113.50,242.50 L113.75,242.50 L113.99,242.50 L114.24,242.50 L114.49,242.50 L114.73,242.50 L114.98,242.50 L115.23,242.50 L115.48,242.50 L115.72,242.50 L115.97,242.50 L116.22,242.50 L116.46,242.50 L116.71,242.50 L116.96,242.50 L117.20,242.50 L117.45,242.50 L117.70,242.50 L117.95,242.50 L118.19,242.50 L118.44,242.50 L118.69,242.50 L118.93,242.50 L119.18,242.50 L119.43,242.50 L119.67,242.50 L119.92,242.50 L120.17,242.50 L120.42,242.50 L120.66,242.50 L120.91,242.50 L121.16,242.50 L121.40,242.50 L121.65,242.50 L121.90,242.50 L122.15,242.50 L122.39,242.50 L122.64,242.50 L122.89,242.50 L123.13,242.50 L123.38,242.50 L123.63,242.50 L123.87,242.50 L124.12,242.50 L124.37,242.50 L124.62,242.50 L124.86,242.50" fill="none" stroke="#ff8000" stroke-width="2.3" stroke-linejoin="round"/>
<g stroke="#000" stroke-opacity="0.5" stroke-width="0.9" fill="none">
<line x1="26.05" y1="242.20" x2="359.84" y2="242.20" stroke-opacity="0.32"/>
<line x1="26.05" y1="242.50" x2="26.05" y2="41.20"/>
<line x1="36.67" y1="242.50" x2="36.67" y2="240.80"/>
<line x1="47.30" y1="242.50" x2="47.30" y2="240.80"/>
<line x1="57.93" y1="242.50" x2="57.93" y2="240.80"/>
<line x1="68.55" y1="242.50" x2="68.55" y2="239.60"/>
<line x1="79.17" y1="242.50" x2="79.17" y2="240.80"/>
<line x1="89.80" y1="242.50" x2="89.80" y2="240.80"/>
<line x1="100.42" y1="242.50" x2="100.42" y2="240.80"/>
<line x1="111.05" y1="242.50" x2="111.05" y2="239.60"/>
<line x1="121.67" y1="242.50" x2="121.67" y2="240.80"/>
<line x1="132.30" y1="242.50" x2="132.30" y2="240.80"/>
<line x1="142.93" y1="242.50" x2="142.93" y2="240.80"/>
<line x1="153.55" y1="242.50" x2="153.55" y2="239.60"/>
<line x1="164.18" y1="242.50" x2="164.18" y2="240.80"/>
<line x1="174.80" y1="242.50" x2="174.80" y2="240.80"/>
<line x1="185.43" y1="242.50" x2="185.43" y2="240.80"/>
<line x1="196.05" y1="242.50" x2="196.05" y2="239.60"/>
<line x1="206.68" y1="242.50" x2="206.68" y2="240.80"/>
<line x1="217.30" y1="242.50" x2="217.30" y2="240.80"/>
<line x1="227.93" y1="242.50" x2="227.93" y2="240.80"/>
<line x1="238.55" y1="242.50" x2="238.55" y2="239.60"/>
<line x1="249.18" y1="242.50" x2="249.18" y2="240.80"/>
<line x1="259.80" y1="242.50" x2="259.80" y2="240.80"/>
<line x1="270.43" y1="242.50" x2="270.43" y2="240.80"/>
<line x1="281.05" y1="242.50" x2="281.05" y2="239.60"/>
<line x1="291.68" y1="242.50" x2="291.68" y2="240.80"/>
<line x1="302.30" y1="242.50" x2="302.30" y2="240.80"/>
<line x1="312.93" y1="242.50" x2="312.93" y2="240.80"/>
<line x1="323.55" y1="242.50" x2="323.55" y2="239.60"/>
<line x1="334.18" y1="242.50" x2="334.18" y2="240.80"/>
<line x1="344.80" y1="242.50" x2="344.80" y2="240.80"/>
<line x1="355.43" y1="242.50" x2="355.43" y2="240.80"/>
<line x1="26.05" y1="232.91" x2="27.75" y2="232.91"/>
<line x1="26.05" y1="223.33" x2="27.75" y2="223.33"/>
<line x1="26.05" y1="213.75" x2="27.75" y2="213.75"/>
<line x1="26.05" y1="204.16" x2="28.95" y2="204.16"/>
<line x1="26.05" y1="194.57" x2="27.75" y2="194.57"/>
<line x1="26.05" y1="184.99" x2="27.75" y2="184.99"/>
<line x1="26.05" y1="175.41" x2="27.75" y2="175.41"/>
<line x1="26.05" y1="165.82" x2="28.95" y2="165.82"/>
<line x1="26.05" y1="156.24" x2="27.75" y2="156.24"/>
<line x1="26.05" y1="146.65" x2="27.75" y2="146.65"/>
<line x1="26.05" y1="137.06" x2="27.75" y2="137.06"/>
<line x1="26.05" y1="127.48" x2="28.95" y2="127.48"/>
<line x1="26.05" y1="117.90" x2="27.75" y2="117.90"/>
<line x1="26.05" y1="108.31" x2="27.75" y2="108.31"/>
<line x1="26.05" y1="98.73" x2="27.75" y2="98.73"/>
<line x1="26.05" y1="89.14" x2="28.95" y2="89.14"/>
<line x1="26.05" y1="79.56" x2="27.75" y2="79.56"/>
<line x1="26.05" y1="69.97" x2="27.75" y2="69.97"/>
<line x1="26.05" y1="60.38" x2="27.75" y2="60.38"/>
<line x1="26.05" y1="50.80" x2="28.95" y2="50.80"/>
</g>
<g font-family="Liberation Sans, sans-serif" font-weight="bold" fill="#000" stroke="#000" stroke-width="0.25" text-rendering="geometricPrecision" style="filter:grayscale(1)">
<text transform="translate(166.13,12.35) scale(0.9546,1)" font-size="16" font-style="italic">β</text>
<text transform="translate(180.22,12.35) scale(1.1716,1)" font-size="16">=</text>
<text x="196.27" y="12.35" font-size="16" letter-spacing="0.418">0.5</text>
<text transform="translate(-1.26,32.60) scale(0.9499,1)" font-size="15.3" font-style="italic">E</text>
<text x="9.99" y="27.80" font-size="10.6" letter-spacing="-0.508">adS</text>
<line x1="29.9" y1="33.0" x2="32.3" y2="21.9" stroke="#000" stroke-width="1.9"/>
<text transform="translate(33.97,32.60) scale(0.8530,1)" font-size="15.3" font-style="italic">E</text>
<text transform="translate(43.72,27.80) scale(0.9626,1)" font-size="10.6" font-style="italic">M</text>
<text transform="translate(365.34,246.90) scale(1.1200,1)" font-size="13.3" font-style="italic">μ</text>
<text x="3.93" y="208.76" font-size="14.4" letter-spacing="-0.036">0.2</text>
<text x="3.93" y="170.42" font-size="14.4" letter-spacing="-0.286">0.4</text>
<text x="3.93" y="132.08" font-size="14.4" letter-spacing="-0.064">0.6</text>
<text x="3.93" y="93.74" font-size="14.4" letter-spacing="-0.103">0.8</text>
<text x="4.09" y="55.40" font-size="14.4" letter-spacing="-0.110">1.0</text>
<text x="58.48" y="258.40" font-size="14.4" letter-spacing="0.114">0.2</text>
<text x="100.98" y="258.40" font-size="14.4" letter-spacing="-0.136">0.4</text>
<text x="143.48" y="258.40" font-size="14.4" letter-spacing="0.086">0.6</text>
<text x="185.98" y="258.40" font-size="14.4" letter-spacing="0.047">0.8</text>
<text x="228.64" y="258.40" font-size="14.4" letter-spacing="0.040">1.0</text>
<text x="271.14" y="258.40" font-size="14.4" letter-spacing="0.033">1.2</text>
<text x="313.64" y="258.40" font-size="14.4" letter-spacing="-0.217">1.4</text>
<text x="39.94" y="279.10" font-size="14.4" letter-spacing="-0.092">Minkowski</text>
<text x="151.01" y="279.10" font-size="14.4" font-style="italic">ω</text>
<text transform="translate(167.06,279.10) scale(1.0663,1)" font-size="14.4">=</text>
<text x="179.23" y="279.10" font-size="14.4" letter-spacing="-1.274">0.1</text>
<text x="237.21" y="279.10" font-size="14.4" font-style="italic">ω</text>
<text transform="translate(253.36,279.10) scale(1.0663,1)" font-size="14.4">=</text>
<text x="265.43" y="279.10" font-size="14.4" letter-spacing="-0.524">0.5</text>
<text x="323.31" y="279.10" font-size="14.4" font-style="italic">ω</text>
<text transform="translate(339.26,279.10) scale(1.0663,1)" font-size="14.4">=</text>
<text x="351.69" y="279.10" font-size="14.4" letter-spacing="-0.411">1.</text>
<text x="40.31" y="299.40" font-size="14.4" font-style="italic">ω</text>
<text transform="translate(55.46,299.40) scale(1.0663,1)" font-size="14.4">=</text>
<text x="67.60" y="299.40" font-size="14.4">2</text>
<text x="114.91" y="299.40" font-size="14.4" font-style="italic">ω</text>
<text transform="translate(130.16,299.40) scale(1.0663,1)" font-size="14.4">=</text>
<text x="142.36" y="299.40" font-size="14.4">5</text>
<text x="188.91" y="299.40" font-size="14.4" font-style="italic">ω</text>
<text transform="translate(204.06,299.40) scale(1.0663,1)" font-size="14.4">=</text>
<text x="216.18" y="299.40" font-size="14.4" letter-spacing="-0.049">7.5</text>
<text x="275.41" y="299.40" font-size="14.4" font-style="italic">ω</text>
<text transform="translate(290.76,299.40) scale(1.0663,1)" font-size="14.4">=</text>
<text x="303.29" y="299.40" font-size="14.4" letter-spacing="-0.634">12</text>
</g>
<line x1="9.55" y1="277.60" x2="34.40" y2="277.60" stroke="#222" stroke-width="1.5" stroke-dasharray="3.85 3.85" stroke-linecap="square"/>
<line x1="119.05" y1="277.55" x2="145.85" y2="277.55" stroke="#0000f8" stroke-width="2.35"/>
<line x1="205.35" y1="277.55" x2="231.45" y2="277.55" stroke="#ff0000" stroke-width="2.35"/>
<line x1="291.45" y1="277.55" x2="317.55" y2="277.55" stroke="#00a500" stroke-width="2.35"/>
<line x1="8.65" y1="297.75" x2="35.15" y2="297.75" stroke="#ff00ff" stroke-width="2.35"/>
<line x1="83.25" y1="297.75" x2="109.25" y2="297.75" stroke="#000" stroke-width="2.35"/>
<line x1="157.25" y1="297.75" x2="183.85" y2="297.75" stroke="#00f6ff" stroke-width="2.35"/>
<line x1="243.55" y1="297.75" x2="269.75" y2="297.75" stroke="#ff8000" stroke-width="2.35"/>
</svg>
</body></html>
